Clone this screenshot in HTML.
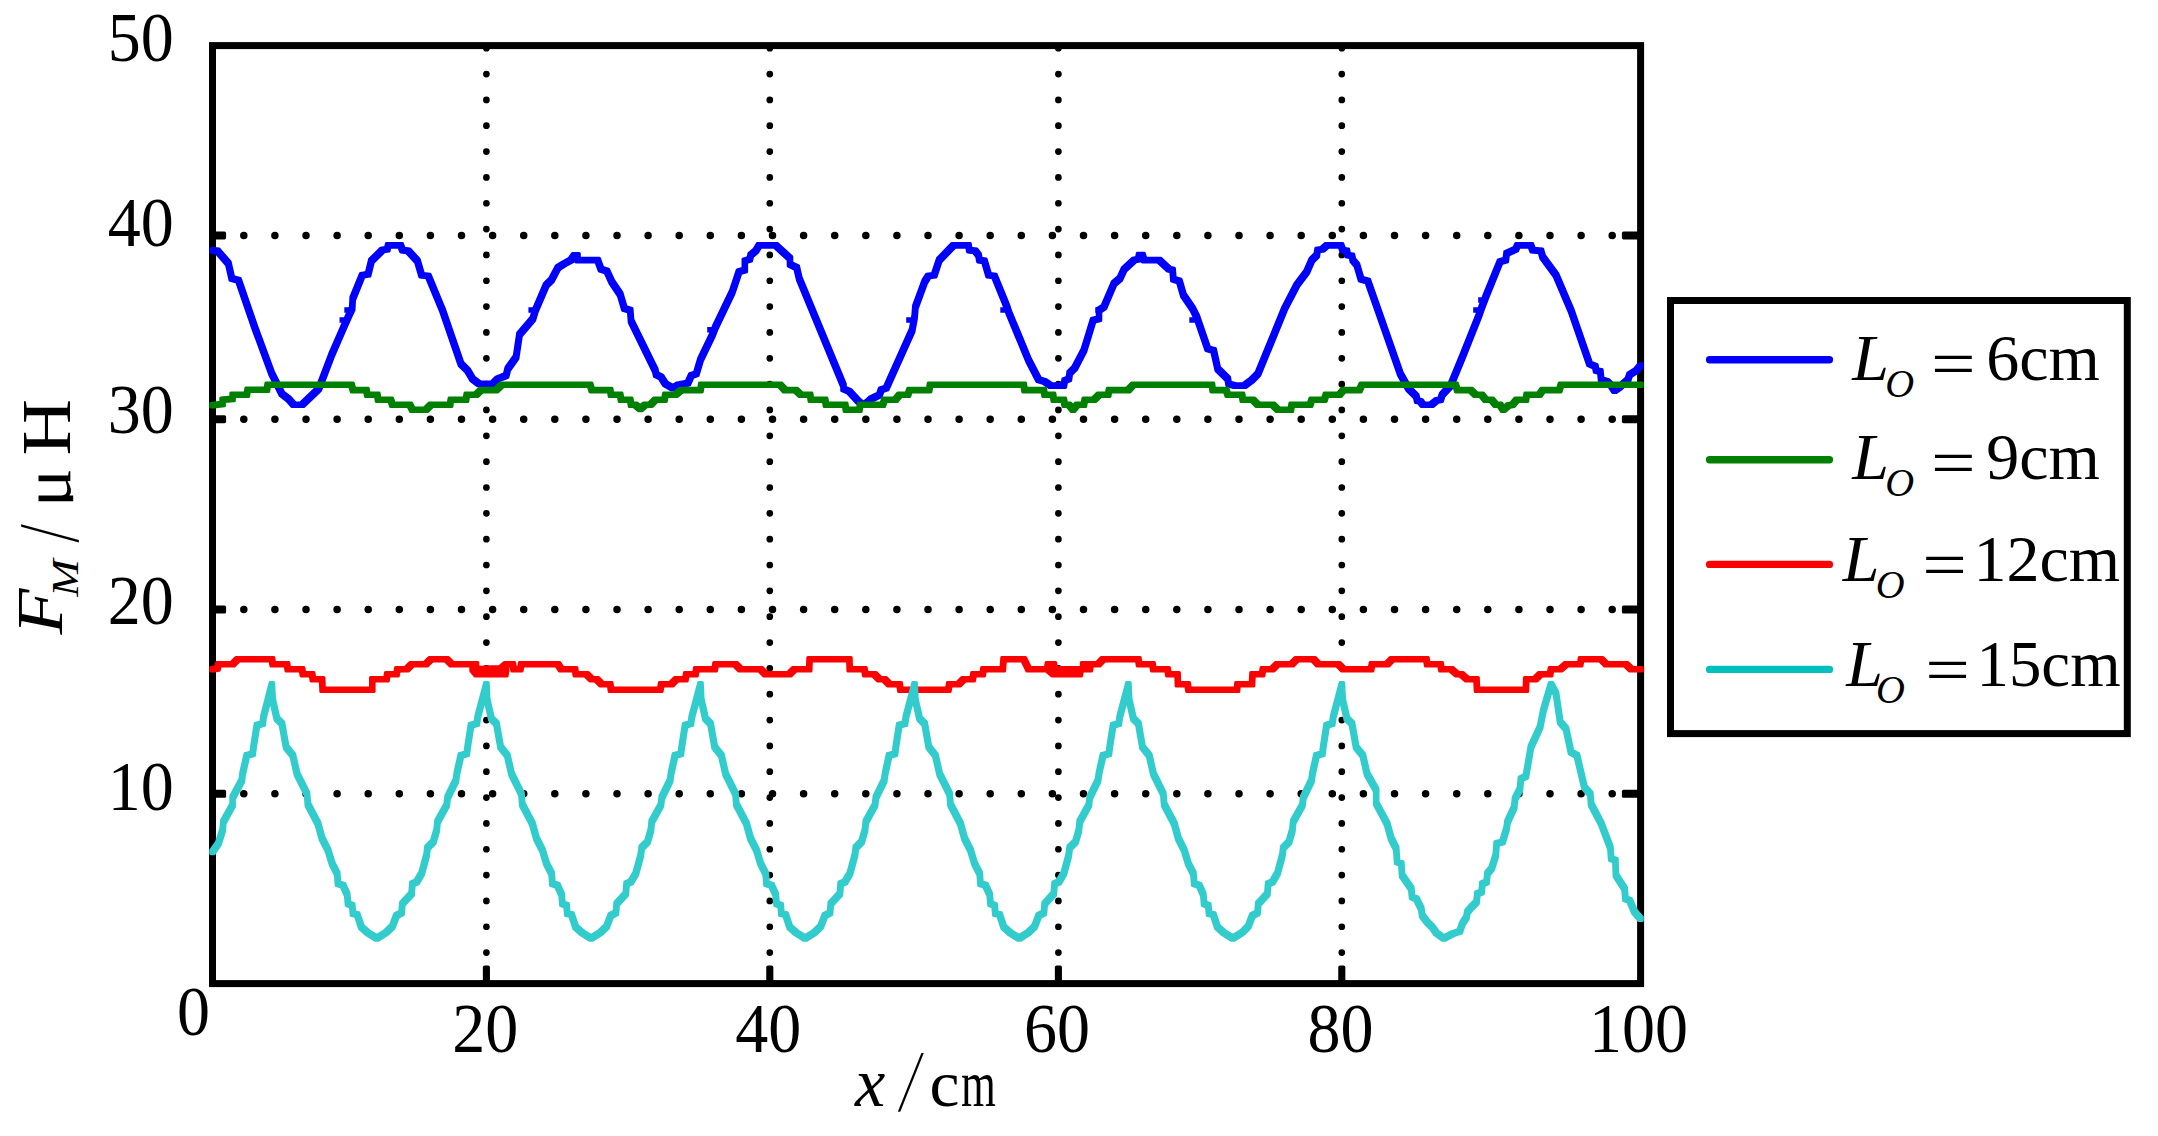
<!DOCTYPE html>
<html lang="zh"><head><meta charset="utf-8"><title>F_M / μH — x/cm</title>
<style>html,body{margin:0;padding:0;background:#fff}body{width:2158px;height:1136px;overflow:hidden}svg{display:block}text{font-family:"Liberation Serif","Noto Serif CJK SC",serif;fill:#000}.it{font-style:italic}</style></head><body>
<svg width="2158" height="1136" viewBox="0 0 2158 1136">
<rect x="0" y="0" width="2158" height="1136" fill="#fff"/>
<g stroke="#000" stroke-linecap="round" fill="none">
<line x1="212.7" y1="235.4" x2="1630" y2="235.4" stroke-width="7.5" stroke-dasharray="0.01 31.09"/>
<line x1="212.7" y1="419.2" x2="1630" y2="419.2" stroke-width="7.5" stroke-dasharray="0.01 31.09"/>
<line x1="212.7" y1="609.5" x2="1630" y2="609.5" stroke-width="7.5" stroke-dasharray="0.01 31.09"/>
<line x1="212.7" y1="793.8" x2="1630" y2="793.8" stroke-width="7.5" stroke-dasharray="0.01 31.09"/>
<line x1="486.4" y1="48.2" x2="486.4" y2="972" stroke-width="6.7" stroke-dasharray="0.01 25.83"/>
<line x1="769.8" y1="48.2" x2="769.8" y2="972" stroke-width="6.7" stroke-dasharray="0.01 25.83"/>
<line x1="1058.4" y1="48.2" x2="1058.4" y2="972" stroke-width="6.7" stroke-dasharray="0.01 25.83"/>
<line x1="1341.8" y1="48.2" x2="1341.8" y2="972" stroke-width="6.7" stroke-dasharray="0.01 25.83"/>
</g>
<g stroke="#000" fill="none">
<rect x="212.5" y="45.6" width="1428.1" height="938.0" stroke-width="7" stroke-linejoin="miter"/>
<g stroke="none" fill="#000">
<rect x="212.5" y="231.4" width="13.6" height="8" rx="1.6"/>
<rect x="1621.9" y="231.4" width="18.7" height="8" rx="1.6"/>
<rect x="212.5" y="415.2" width="13.6" height="8" rx="1.6"/>
<rect x="1621.9" y="415.2" width="18.7" height="8" rx="1.6"/>
<rect x="212.5" y="605.5" width="13.6" height="8" rx="1.6"/>
<rect x="1621.9" y="605.5" width="18.7" height="8" rx="1.6"/>
<rect x="212.5" y="789.8" width="13.6" height="8" rx="1.6"/>
<rect x="1621.9" y="789.8" width="18.7" height="8" rx="1.6"/>
<rect x="482.85" y="965.6" width="7.1" height="18.0" rx="1.8"/>
<rect x="766.25" y="965.6" width="7.1" height="18.0" rx="1.8"/>
<rect x="1054.85" y="965.6" width="7.1" height="18.0" rx="1.8"/>
<rect x="1338.25" y="965.6" width="7.1" height="18.0" rx="1.8"/>
</g></g>
<g stroke-width="3.2" stroke-linejoin="round" fill-rule="nonzero">
<path fill="#0000ff" stroke="#0000ff" d="M210.8 248.7L214.2 248.7L219.2 249.2L219.2 252.6L215.8 252.6L210.8 252.1ZM215.8 249.2L219.2 249.2L230.1 261.8L230.1 265.2L226.7 265.2L215.8 252.6ZM226.7 261.8L230.1 261.8L233.5 276.8L233.5 280.2L230.1 280.2L226.7 265.2ZM230.1 276.8L233.5 276.8L240.2 278.5L240.2 281.9L236.8 281.9L230.1 280.2ZM236.8 278.5L240.2 278.5L256.9 327.0L256.9 330.4L253.5 330.4L236.8 281.9ZM253.5 327.0L256.9 327.0L273.6 372.2L273.6 375.6L270.2 375.6L253.5 330.4ZM270.2 372.2L273.6 372.2L283.6 392.2L283.6 395.6L280.2 395.6L270.2 375.6ZM280.2 392.2L283.6 392.2L290.3 397.3L290.3 400.7L286.9 400.7L280.2 395.6ZM286.9 397.3L290.3 397.3L295.4 403.1L295.4 406.5L292.0 406.5L286.9 400.7ZM292.0 403.1L303.7 403.1L303.7 406.5L292.0 406.5ZM300.3 403.1L317.0 387.2L320.4 387.2L320.4 390.6L303.7 406.5L300.3 406.5ZM317.0 387.2L330.4 352.1L333.8 352.1L333.8 355.5L320.4 390.6L317.0 390.6ZM330.4 352.1L342.1 325.3L345.5 325.3L345.5 328.7L333.8 355.5L330.4 355.5ZM342.1 325.3L348.0 311.9L351.4 311.9L351.4 315.3L345.5 328.7L342.1 328.7ZM348.0 311.9L350.5 306.9L353.9 306.9L353.9 310.3L351.4 315.3L348.0 315.3ZM350.5 306.9L351.0 296.9L354.4 296.9L354.4 300.3L353.9 310.3L350.5 310.3ZM351.0 296.9L360.5 273.5L363.9 273.5L363.9 276.9L354.4 300.3L351.0 300.3ZM360.5 273.5L366.4 272.6L369.8 272.6L369.8 276.0L363.9 276.9L360.5 276.9ZM366.4 272.6L369.7 259.2L373.1 259.2L373.1 262.6L369.8 276.0L366.4 276.0ZM369.7 259.2L380.6 248.4L384.0 248.4L384.0 251.8L373.1 262.6L369.7 262.6ZM380.6 248.4L385.6 247.5L389.0 247.5L389.0 250.9L384.0 251.8L380.6 251.8ZM385.6 247.5L386.5 243.7L389.9 243.7L389.9 247.1L389.0 250.9L385.6 250.9ZM386.5 243.7L402.4 243.7L402.4 247.1L386.5 247.1ZM399.0 243.7L402.4 243.7L404.1 248.4L404.1 251.8L400.7 251.8L399.0 247.1ZM400.7 248.4L404.1 248.4L409.9 249.2L409.9 252.6L406.5 252.6L400.7 251.8ZM406.5 249.2L409.9 249.2L419.1 259.2L419.1 262.6L415.7 262.6L406.5 252.6ZM415.7 259.2L419.1 259.2L423.3 273.5L423.3 276.9L419.9 276.9L415.7 262.6ZM419.9 273.5L423.3 273.5L430.0 274.3L430.0 277.7L426.6 277.7L419.9 276.9ZM426.6 274.3L430.0 274.3L444.2 308.6L444.2 312.0L440.8 312.0L426.6 277.7ZM440.8 308.6L444.2 308.6L462.6 362.1L462.6 365.5L459.2 365.5L440.8 312.0ZM459.2 362.1L462.6 362.1L469.3 368.8L469.3 372.2L465.9 372.2L459.2 365.5ZM465.9 368.8L469.3 368.8L474.3 377.2L474.3 380.6L470.9 380.6L465.9 372.2ZM470.9 377.2L474.3 377.2L481.0 382.2L481.0 385.6L477.6 385.6L470.9 380.6ZM477.6 382.2L494.4 382.2L494.4 385.6L477.6 385.6ZM491.0 382.2L496.0 377.2L499.4 377.2L499.4 380.6L494.4 385.6L491.0 385.6ZM496.0 377.2L504.4 373.8L507.8 373.8L507.8 377.2L499.4 380.6L496.0 380.6ZM504.4 373.8L506.1 367.1L509.5 367.1L509.5 370.5L507.8 377.2L504.4 377.2ZM506.1 367.1L514.4 355.4L517.8 355.4L517.8 358.8L509.5 370.5L506.1 370.5ZM514.4 355.4L517.8 332.8L521.2 332.8L521.2 336.2L517.8 358.8L514.4 358.8ZM517.8 332.8L531.2 317.0L534.6 317.0L534.6 320.4L521.2 336.2L517.8 336.2ZM531.2 317.0L533.7 308.6L537.1 308.6L537.1 312.0L534.6 320.4L531.2 320.4ZM533.7 308.6L544.5 283.5L547.9 283.5L547.9 286.9L537.1 312.0L533.7 312.0ZM544.5 283.5L549.6 278.5L553.0 278.5L553.0 281.9L547.9 286.9L544.5 286.9ZM549.6 278.5L556.3 265.9L559.7 265.9L559.7 269.3L553.0 281.9L549.6 281.9ZM556.3 265.9L562.9 261.8L566.3 261.8L566.3 265.2L559.7 269.3L556.3 269.3ZM562.9 261.8L569.2 258.4L572.6 258.4L572.6 261.8L566.3 265.2L562.9 265.2ZM569.2 258.4L572.5 253.6L575.9 253.6L575.9 257.0L572.6 261.8L569.2 261.8ZM572.5 253.6L579.2 253.6L579.2 257.0L572.5 257.0ZM575.8 253.6L579.2 253.6L579.2 261.8L575.8 261.8ZM575.8 258.4L599.3 258.4L599.3 261.8L575.8 261.8ZM595.9 258.4L599.3 258.4L602.7 267.6L602.7 271.0L599.3 271.0L595.9 261.8ZM599.3 267.6L602.7 267.6L608.5 269.3L608.5 272.7L605.1 272.7L599.3 271.0ZM605.1 269.3L608.5 269.3L613.5 280.2L613.5 283.6L610.1 283.6L605.1 272.7ZM610.1 280.2L613.5 280.2L621.9 292.7L621.9 296.1L618.5 296.1L610.1 283.6ZM618.5 292.7L621.9 292.7L626.1 306.9L626.1 310.3L622.7 310.3L618.5 296.1ZM622.7 306.9L626.1 306.9L631.9 308.6L631.9 312.0L628.5 312.0L622.7 310.3ZM628.5 308.6L631.9 308.6L632.8 319.5L632.8 322.9L629.4 322.9L628.5 312.0ZM629.4 319.5L632.8 319.5L657.0 368.8L657.0 372.2L653.6 372.2L629.4 322.9ZM653.6 368.8L657.0 368.8L657.9 373.0L657.9 376.4L654.5 376.4L653.6 372.2ZM654.5 373.0L657.9 373.0L662.9 375.5L662.9 378.9L659.5 378.9L654.5 376.4ZM659.5 375.5L662.9 375.5L667.1 382.2L667.1 385.6L663.7 385.6L659.5 378.9ZM663.7 382.2L667.1 382.2L674.6 386.4L674.6 389.8L671.2 389.8L663.7 385.6ZM671.2 386.4L677.0 383.0L680.4 383.0L680.4 386.4L674.6 389.8L671.2 389.8ZM677.0 383.0L686.2 381.4L689.6 381.4L689.6 384.8L680.4 386.4L677.0 386.4ZM686.2 381.4L689.6 373.8L693.0 373.8L693.0 377.2L689.6 384.8L686.2 384.8ZM689.6 373.8L694.6 372.2L698.0 372.2L698.0 375.6L693.0 377.2L689.6 377.2ZM694.6 372.2L698.8 357.9L702.2 357.9L702.2 361.3L698.0 375.6L694.6 375.6ZM698.8 357.9L710.5 333.7L713.9 333.7L713.9 337.1L702.2 361.3L698.8 361.3ZM710.5 333.7L713.8 325.3L717.2 325.3L717.2 328.7L713.9 337.1L710.5 337.1ZM713.8 325.3L730.6 290.2L734.0 290.2L734.0 293.6L717.2 328.7L713.8 328.7ZM730.6 290.2L737.3 270.1L740.7 270.1L740.7 273.5L734.0 293.6L730.6 293.6ZM737.3 270.1L743.1 268.4L746.5 268.4L746.5 271.8L740.7 273.5L737.3 273.5ZM743.1 259.2L746.5 259.2L746.5 271.8L743.1 271.8ZM743.1 259.2L748.1 257.6L751.5 257.6L751.5 261.0L746.5 262.6L743.1 262.6ZM748.1 257.6L749.0 253.4L752.4 253.4L752.4 256.8L751.5 261.0L748.1 261.0ZM749.0 253.4L754.0 249.2L757.4 249.2L757.4 252.6L752.4 256.8L749.0 256.8ZM754.0 249.2L757.3 243.7L760.7 243.7L760.7 247.1L757.4 252.6L754.0 252.6ZM757.3 243.7L777.5 243.7L777.5 247.1L757.3 247.1ZM774.1 243.7L777.5 243.7L791.7 256.7L791.7 260.1L788.3 260.1L774.1 247.1ZM788.3 256.7L791.7 256.7L791.7 266.0L788.3 266.0ZM788.3 262.6L791.7 262.6L798.4 265.9L798.4 269.3L795.0 269.3L788.3 266.0ZM795.0 265.9L798.4 265.9L800.9 276.8L800.9 280.2L797.5 280.2L795.0 269.3ZM797.5 276.8L800.9 276.8L845.2 383.9L845.2 387.3L841.8 387.3L797.5 280.2ZM841.8 383.9L845.2 383.9L845.2 390.6L841.8 390.6ZM841.8 387.2L845.2 387.2L851.1 389.7L851.1 393.1L847.7 393.1L841.8 390.6ZM847.7 389.7L851.1 389.7L859.4 398.9L859.4 402.3L856.0 402.3L847.7 393.1ZM856.0 398.9L859.4 398.9L862.7 401.8L862.7 405.2L859.3 405.2L856.0 402.3ZM859.3 401.8L867.7 401.8L867.7 405.2L859.3 405.2ZM864.3 401.8L867.7 398.9L871.1 398.9L871.1 402.3L867.7 405.2L864.3 405.2ZM867.7 398.9L869.4 397.3L872.8 397.3L872.8 400.7L871.1 402.3L867.7 402.3ZM869.4 397.3L877.8 393.1L881.2 393.1L881.2 396.5L872.8 400.7L869.4 400.7ZM877.8 393.1L879.5 388.0L882.9 388.0L882.9 391.4L881.2 396.5L877.8 396.5ZM879.5 388.0L884.5 386.4L887.9 386.4L887.9 389.8L882.9 391.4L879.5 391.4ZM884.5 386.4L910.4 328.7L913.8 328.7L913.8 332.1L887.9 389.8L884.5 389.8ZM910.4 328.7L912.9 315.3L916.3 315.3L916.3 318.7L913.8 332.1L910.4 332.1ZM912.9 315.3L913.7 305.2L917.1 305.2L917.1 308.6L916.3 318.7L912.9 318.7ZM913.7 305.2L922.9 280.2L926.3 280.2L926.3 283.6L917.1 308.6L913.7 308.6ZM922.9 280.2L926.6 274.3L930.0 274.3L930.0 277.7L926.3 283.6L922.9 283.6ZM926.6 274.3L932.5 273.5L935.9 273.5L935.9 276.9L930.0 277.7L926.6 277.7ZM932.5 273.5L937.5 258.4L940.9 258.4L940.9 261.8L935.9 276.9L932.5 276.9ZM937.5 258.4L951.7 243.7L955.1 243.7L955.1 247.1L940.9 261.8L937.5 261.8ZM951.7 243.7L970.2 243.7L970.2 247.1L951.7 247.1ZM966.8 243.7L970.2 243.7L971.0 248.4L971.0 251.8L967.6 251.8L966.8 247.1ZM967.6 248.4L971.0 248.4L976.9 249.2L976.9 252.6L973.5 252.6L967.6 251.8ZM973.5 249.2L976.9 249.2L980.2 253.4L980.2 256.8L976.8 256.8L973.5 252.6ZM976.8 253.4L980.2 253.4L981.1 258.4L981.1 261.8L977.7 261.8L976.8 256.8ZM977.7 258.4L981.1 258.4L986.1 259.2L986.1 262.6L982.7 262.6L977.7 261.8ZM982.7 259.2L986.1 259.2L990.3 273.5L990.3 276.9L986.9 276.9L982.7 262.6ZM986.9 273.5L990.3 273.5L996.1 274.3L996.1 277.7L992.7 277.7L986.9 276.9ZM992.7 274.3L996.1 274.3L1008.7 305.2L1008.7 308.6L1005.3 308.6L992.7 277.7ZM1005.3 305.2L1008.7 305.2L1010.3 310.3L1010.3 313.7L1006.9 313.7L1005.3 308.6ZM1006.9 310.3L1010.3 310.3L1030.4 358.8L1030.4 362.2L1027.0 362.2L1006.9 313.7ZM1027.0 358.8L1030.4 358.8L1040.4 378.0L1040.4 381.4L1037.0 381.4L1027.0 362.2ZM1037.0 378.0L1040.4 378.0L1046.3 379.7L1046.3 383.1L1042.9 383.1L1037.0 381.4ZM1042.9 379.7L1046.3 379.7L1052.2 383.9L1052.2 387.3L1048.8 387.3L1042.9 383.1ZM1048.8 383.9L1065.5 383.9L1065.5 387.3L1048.8 387.3ZM1062.1 383.9L1063.0 378.9L1066.4 378.9L1066.4 382.3L1065.5 387.3L1062.1 387.3ZM1063.0 378.9L1067.2 377.2L1070.6 377.2L1070.6 380.6L1066.4 382.3L1063.0 382.3ZM1067.2 377.2L1068.0 371.3L1071.4 371.3L1071.4 374.7L1070.6 380.6L1067.2 380.6ZM1068.0 371.3L1073.0 366.3L1076.4 366.3L1076.4 369.7L1071.4 374.7L1068.0 374.7ZM1073.0 366.3L1082.2 348.7L1085.6 348.7L1085.6 352.1L1076.4 369.7L1073.0 369.7ZM1082.2 348.7L1091.4 318.6L1094.8 318.6L1094.8 322.0L1085.6 352.1L1082.2 352.1ZM1091.4 318.6L1097.3 317.0L1100.7 317.0L1100.7 320.4L1094.8 322.0L1091.4 322.0ZM1097.3 308.6L1100.7 308.6L1100.7 320.4L1097.3 320.4ZM1097.3 308.6L1102.3 305.2L1105.7 305.2L1105.7 308.6L1100.7 312.0L1097.3 312.0ZM1102.3 305.2L1112.3 281.8L1115.7 281.8L1115.7 285.2L1105.7 308.6L1102.3 308.6ZM1112.3 281.8L1118.2 276.8L1121.6 276.8L1121.6 280.2L1115.7 285.2L1112.3 285.2ZM1118.2 276.8L1122.4 267.6L1125.8 267.6L1125.8 271.0L1121.6 280.2L1118.2 280.2ZM1122.4 267.6L1132.4 258.4L1135.8 258.4L1135.8 261.8L1125.8 271.0L1122.4 271.0ZM1132.4 258.4L1136.6 257.6L1140.0 257.6L1140.0 261.0L1135.8 261.8L1132.4 261.8ZM1136.6 257.6L1137.4 253.4L1140.8 253.4L1140.8 256.8L1140.0 261.0L1136.6 261.0ZM1137.4 253.4L1144.2 253.4L1144.2 256.8L1137.4 256.8ZM1140.8 253.4L1144.2 253.4L1145.8 258.4L1145.8 261.8L1142.4 261.8L1140.8 256.8ZM1142.4 258.4L1160.9 258.4L1160.9 261.8L1142.4 261.8ZM1157.5 258.4L1160.9 258.4L1170.9 267.6L1170.9 271.0L1167.5 271.0L1157.5 261.8ZM1167.5 267.6L1170.9 267.6L1174.3 268.4L1174.3 271.8L1170.9 271.8L1167.5 271.0ZM1170.9 268.4L1174.3 268.4L1175.1 277.6L1175.1 281.0L1171.7 281.0L1170.9 271.8ZM1171.7 277.6L1175.1 277.6L1181.0 279.3L1181.0 282.7L1177.6 282.7L1171.7 281.0ZM1177.6 279.3L1181.0 279.3L1185.1 293.5L1185.1 296.9L1181.7 296.9L1177.6 282.7ZM1181.7 293.5L1185.1 293.5L1194.3 306.9L1194.3 310.3L1190.9 310.3L1181.7 296.9ZM1190.9 306.9L1194.3 306.9L1198.5 315.3L1198.5 318.7L1195.1 318.7L1190.9 310.3ZM1195.1 315.3L1198.5 315.3L1200.2 320.3L1200.2 323.7L1196.8 323.7L1195.1 318.7ZM1196.8 320.3L1200.2 320.3L1209.4 347.1L1209.4 350.5L1206.0 350.5L1196.8 323.7ZM1206.0 347.1L1209.4 347.1L1215.3 348.7L1215.3 352.1L1211.9 352.1L1206.0 350.5ZM1211.9 348.7L1215.3 348.7L1219.4 367.1L1219.4 370.5L1216.0 370.5L1211.9 352.1ZM1216.0 367.1L1219.4 367.1L1229.5 377.2L1229.5 380.6L1226.1 380.6L1216.0 370.5ZM1226.1 377.2L1229.5 377.2L1230.3 382.2L1230.3 385.6L1226.9 385.6L1226.1 380.6ZM1226.9 382.2L1230.3 382.2L1236.2 383.9L1236.2 387.3L1232.8 387.3L1226.9 385.6ZM1232.8 383.9L1246.2 383.9L1246.2 387.3L1232.8 387.3ZM1242.8 383.9L1249.5 378.9L1252.9 378.9L1252.9 382.3L1246.2 387.3L1242.8 387.3ZM1249.5 378.9L1256.2 372.2L1259.6 372.2L1259.6 375.6L1252.9 382.3L1249.5 382.3ZM1256.2 372.2L1267.9 343.7L1271.3 343.7L1271.3 347.1L1259.6 375.6L1256.2 375.6ZM1267.9 343.7L1282.9 306.9L1286.3 306.9L1286.3 310.3L1271.3 347.1L1267.9 347.1ZM1282.9 306.9L1295.0 283.5L1298.4 283.5L1298.4 286.9L1286.3 310.3L1282.9 310.3ZM1295.0 283.5L1305.0 270.1L1308.4 270.1L1308.4 273.5L1298.4 286.9L1295.0 286.9ZM1305.0 270.1L1310.1 258.4L1313.5 258.4L1313.5 261.8L1308.4 273.5L1305.0 273.5ZM1310.1 258.4L1315.1 253.4L1318.5 253.4L1318.5 256.8L1313.5 261.8L1310.1 261.8ZM1315.1 253.4L1315.9 248.4L1319.3 248.4L1319.3 251.8L1318.5 256.8L1315.1 256.8ZM1315.9 248.4L1320.9 247.5L1324.3 247.5L1324.3 250.9L1319.3 251.8L1315.9 251.8ZM1320.9 247.5L1325.1 243.7L1328.5 243.7L1328.5 247.1L1324.3 250.9L1320.9 250.9ZM1325.1 243.7L1342.7 243.7L1342.7 247.1L1325.1 247.1ZM1339.3 243.7L1342.7 243.7L1344.4 248.4L1344.4 251.8L1341.0 251.8L1339.3 247.1ZM1341.0 248.4L1344.4 248.4L1348.6 249.2L1348.6 252.6L1345.2 252.6L1341.0 251.8ZM1345.2 249.2L1348.6 249.2L1349.4 253.4L1349.4 256.8L1346.0 256.8L1345.2 252.6ZM1346.0 253.4L1349.4 253.4L1353.6 254.2L1353.6 257.6L1350.2 257.6L1346.0 256.8ZM1350.2 254.2L1353.6 254.2L1354.5 258.4L1354.5 261.8L1351.1 261.8L1350.2 257.6ZM1351.1 258.4L1354.5 258.4L1358.6 263.4L1358.6 266.8L1355.2 266.8L1351.1 261.8ZM1355.2 263.4L1358.6 263.4L1362.8 277.6L1362.8 281.0L1359.4 281.0L1355.2 266.8ZM1359.4 277.6L1362.8 277.6L1369.5 279.3L1369.5 282.7L1366.1 282.7L1359.4 281.0ZM1366.1 279.3L1369.5 279.3L1380.4 310.3L1380.4 313.7L1377.0 313.7L1366.1 282.7ZM1377.0 310.3L1380.4 310.3L1402.1 372.2L1402.1 375.6L1398.7 375.6L1377.0 313.7ZM1398.7 372.2L1402.1 372.2L1410.5 387.2L1410.5 390.6L1407.1 390.6L1398.7 375.6ZM1407.1 387.2L1410.5 387.2L1418.0 394.7L1418.0 398.1L1414.6 398.1L1407.1 390.6ZM1414.6 394.7L1418.0 394.7L1418.9 398.9L1418.9 402.3L1415.5 402.3L1414.6 398.1ZM1415.5 398.9L1418.9 398.9L1422.2 399.8L1422.2 403.2L1418.8 403.2L1415.5 402.3ZM1418.8 399.8L1422.2 399.8L1424.7 403.1L1424.7 406.5L1421.3 406.5L1418.8 403.2ZM1421.3 403.1L1433.1 403.1L1433.1 406.5L1421.3 406.5ZM1429.7 403.1L1434.7 398.9L1438.1 398.9L1438.1 402.3L1433.1 406.5L1429.7 406.5ZM1434.7 398.9L1438.9 398.1L1442.3 398.1L1442.3 401.5L1438.1 402.3L1434.7 402.3ZM1438.9 398.1L1440.5 393.1L1443.9 393.1L1443.9 396.5L1442.3 401.5L1438.9 401.5ZM1440.5 393.1L1448.9 383.9L1452.3 383.9L1452.3 387.3L1443.9 396.5L1440.5 396.5ZM1448.9 383.9L1460.6 355.4L1464.0 355.4L1464.0 358.8L1452.3 387.3L1448.9 387.3ZM1460.6 355.4L1477.3 313.6L1480.7 313.6L1480.7 317.0L1464.0 358.8L1460.6 358.8ZM1477.3 313.6L1479.8 306.3L1483.2 306.3L1483.2 309.7L1480.7 317.0L1477.3 317.0ZM1479.8 306.3L1484.0 295.2L1487.4 295.2L1487.4 298.6L1483.2 309.7L1479.8 309.7ZM1484.0 295.2L1498.3 260.1L1501.7 260.1L1501.7 263.5L1487.4 298.6L1484.0 298.6ZM1498.3 260.1L1504.1 258.4L1507.5 258.4L1507.5 261.8L1501.7 263.5L1498.3 263.5ZM1504.1 258.4L1504.9 251.7L1508.3 251.7L1508.3 255.1L1507.5 261.8L1504.1 261.8ZM1504.9 251.7L1514.1 247.5L1517.5 247.5L1517.5 250.9L1508.3 255.1L1504.9 255.1ZM1514.1 247.5L1515.8 243.7L1519.2 243.7L1519.2 247.1L1517.5 250.9L1514.1 250.9ZM1515.8 243.7L1532.6 243.7L1532.6 247.1L1515.8 247.1ZM1529.2 243.7L1532.6 243.7L1534.3 248.4L1534.3 251.8L1530.9 251.8L1529.2 247.1ZM1530.9 248.4L1534.3 248.4L1542.6 249.2L1542.6 252.6L1539.2 252.6L1530.9 251.8ZM1539.2 249.2L1542.6 249.2L1544.3 255.1L1544.3 258.5L1540.9 258.5L1539.2 252.6ZM1540.9 255.1L1544.3 255.1L1557.7 273.5L1557.7 276.9L1554.3 276.9L1540.9 258.5ZM1554.3 273.5L1557.7 273.5L1572.7 308.6L1572.7 312.0L1569.3 312.0L1554.3 276.9ZM1569.3 308.6L1572.7 308.6L1591.2 362.1L1591.2 365.5L1587.8 365.5L1569.3 312.0ZM1587.8 362.1L1591.2 362.1L1597.0 364.6L1597.0 368.0L1593.6 368.0L1587.8 365.5ZM1593.6 364.6L1597.0 364.6L1597.8 368.8L1597.8 372.2L1594.4 372.2L1593.6 368.0ZM1594.4 368.8L1597.8 368.8L1602.0 369.7L1602.0 373.1L1598.6 373.1L1594.4 372.2ZM1598.6 369.7L1602.0 369.7L1602.9 378.0L1602.9 381.4L1599.5 381.4L1598.6 373.1ZM1599.5 378.0L1602.9 378.0L1608.7 379.7L1608.7 383.1L1605.3 383.1L1599.5 381.4ZM1605.3 379.7L1608.7 379.7L1612.9 383.9L1612.9 387.3L1609.5 387.3L1605.3 383.1ZM1609.5 383.9L1612.9 383.9L1616.2 388.9L1616.2 392.3L1612.8 392.3L1609.5 387.3ZM1612.8 388.9L1617.9 385.5L1621.3 385.5L1621.3 388.9L1616.2 392.3L1612.8 392.3ZM1617.9 385.5L1626.2 378.0L1629.6 378.0L1629.6 381.4L1621.3 388.9L1617.9 388.9ZM1626.2 378.0L1627.9 373.0L1631.3 373.0L1631.3 376.4L1629.6 381.4L1626.2 381.4ZM1627.9 373.0L1634.6 368.8L1638.0 368.8L1638.0 372.2L1631.3 376.4L1627.9 376.4ZM1634.6 368.8L1638.8 363.8L1642.2 363.8L1642.2 367.2L1638.0 372.2L1634.6 372.2Z"/>
<path fill="#0000ff" d="M339.5 317.2H346.5V322.8H339.5ZM344.3 307.2H352V312.8H344.3ZM528.4 307.2H536V312.8H528.4ZM707.2 327.0H714.5V332.6H707.2ZM906.2 317.2H914V322.8H906.2ZM1000.3 307.2H1008V312.8H1000.3ZM1095.3 307.2H1102V312.8H1095.3ZM1189.3 317.2H1197.5V322.8H1189.3ZM1473.2 307.2H1481V312.8H1473.2ZM1478.2 297.2H1485V302.8H1478.2Z"/>
<path fill="#008000" stroke="#008000" d="M210.8 403.6L220.9 402.3L224.3 402.3L224.3 405.7L214.2 407.0L210.8 407.0ZM220.9 398.1L224.3 398.1L224.3 405.7L220.9 405.7ZM220.9 398.1L230.9 397.2L234.3 397.2L234.3 400.6L224.3 401.5L220.9 401.5ZM230.9 393.1L234.3 393.1L234.3 400.6L230.9 400.6ZM230.9 393.1L248.5 393.1L248.5 396.5L230.9 396.5ZM245.1 393.1L246.0 388.0L249.4 388.0L249.4 391.4L248.5 396.5L245.1 396.5ZM246.0 388.0L268.6 388.0L268.6 391.4L246.0 391.4ZM265.2 388.0L266.0 383.0L269.4 383.0L269.4 386.4L268.6 391.4L265.2 391.4ZM266.0 383.0L353.1 383.0L353.1 386.4L266.0 386.4ZM349.7 383.0L353.1 383.0L354.7 388.4L354.7 391.8L351.3 391.8L349.7 386.4ZM351.3 388.4L368.1 388.4L368.1 391.8L351.3 391.8ZM364.7 388.4L368.1 388.4L369.0 393.1L369.0 396.5L365.6 396.5L364.7 391.8ZM365.6 393.1L379.0 393.1L379.0 396.5L365.6 396.5ZM375.6 393.1L379.0 393.1L379.8 398.1L379.8 401.5L376.4 401.5L375.6 396.5ZM376.4 398.1L392.4 398.1L392.4 401.5L376.4 401.5ZM389.0 398.1L392.4 398.1L394.1 403.1L394.1 406.5L390.7 406.5L389.0 401.5ZM390.7 403.1L411.6 403.1L411.6 406.5L390.7 406.5ZM408.2 403.1L411.6 403.1L414.1 408.1L414.1 411.5L410.7 411.5L408.2 406.5ZM410.7 408.1L427.5 408.1L427.5 411.5L410.7 411.5ZM424.1 408.1L429.1 403.1L432.5 403.1L432.5 406.5L427.5 411.5L424.1 411.5ZM429.1 403.1L451.8 403.1L451.8 406.5L429.1 406.5ZM448.4 403.1L449.2 398.1L452.6 398.1L452.6 401.5L451.8 406.5L448.4 406.5ZM449.2 398.1L467.7 398.1L467.7 401.5L449.2 401.5ZM464.3 398.1L465.1 393.1L468.5 393.1L468.5 396.5L467.7 401.5L464.3 401.5ZM465.1 393.1L477.7 393.1L477.7 396.5L465.1 396.5ZM474.3 393.1L479.3 388.4L482.7 388.4L482.7 391.8L477.7 396.5L474.3 396.5ZM479.3 388.4L497.8 388.4L497.8 391.8L479.3 391.8ZM494.4 388.4L500.2 383.0L503.6 383.0L503.6 386.4L497.8 391.8L494.4 391.8ZM500.2 383.0L591.8 383.0L591.8 386.4L500.2 386.4ZM588.4 383.0L591.8 383.0L593.5 388.4L593.5 391.8L590.1 391.8L588.4 386.4ZM590.1 388.4L611.9 388.4L611.9 391.8L590.1 391.8ZM608.5 388.4L611.9 388.4L612.7 393.1L612.7 396.5L609.3 396.5L608.5 391.8ZM609.3 393.1L621.9 393.1L621.9 396.5L609.3 396.5ZM618.5 393.1L621.9 393.1L622.7 398.1L622.7 401.5L619.3 401.5L618.5 396.5ZM619.3 398.1L631.9 398.1L631.9 401.5L619.3 401.5ZM628.5 398.1L631.9 398.1L632.8 403.1L632.8 406.5L629.4 406.5L628.5 401.5ZM629.4 403.1L637.0 403.1L637.0 406.5L629.4 406.5ZM633.6 403.1L637.0 403.1L642.0 407.3L642.0 410.7L638.6 410.7L633.6 406.5ZM638.6 407.3L643.6 403.1L647.0 403.1L647.0 406.5L642.0 410.7L638.6 410.7ZM643.6 403.1L652.0 403.1L652.0 406.5L643.6 406.5ZM648.6 403.1L653.6 398.1L657.0 398.1L657.0 401.5L652.0 406.5L648.6 406.5ZM653.6 398.1L666.2 398.1L666.2 401.5L653.6 401.5ZM662.8 398.1L663.7 393.1L667.1 393.1L667.1 396.5L666.2 401.5L662.8 401.5ZM663.7 393.1L677.1 393.1L677.1 396.5L663.7 396.5ZM673.7 393.1L679.6 388.4L683.0 388.4L683.0 391.8L677.1 396.5L673.7 396.5ZM679.6 388.4L702.2 388.4L702.2 391.8L679.6 391.8ZM698.8 388.4L699.6 383.0L703.0 383.0L703.0 386.4L702.2 391.8L698.8 391.8ZM699.6 383.0L781.7 383.0L781.7 386.4L699.6 386.4ZM778.3 383.0L781.7 383.0L786.7 388.4L786.7 391.8L783.3 391.8L778.3 386.4ZM783.3 388.4L797.5 388.4L797.5 391.8L783.3 391.8ZM794.1 388.4L797.5 388.4L802.6 393.1L802.6 396.5L799.2 396.5L794.1 391.8ZM799.2 393.1L811.8 393.1L811.8 396.5L799.2 396.5ZM808.4 393.1L811.8 393.1L812.6 398.1L812.6 401.5L809.2 401.5L808.4 396.5ZM809.2 398.1L826.8 398.1L826.8 401.5L809.2 401.5ZM823.4 398.1L826.8 398.1L827.7 403.1L827.7 406.5L824.3 406.5L823.4 401.5ZM824.3 403.1L846.9 403.1L846.9 406.5L824.3 406.5ZM843.5 403.1L846.9 403.1L847.7 408.1L847.7 411.5L844.3 411.5L843.5 406.5ZM844.3 408.1L861.1 408.1L861.1 411.5L844.3 411.5ZM857.7 408.1L858.5 403.1L861.9 403.1L861.9 406.5L861.1 411.5L857.7 411.5ZM858.5 403.1L884.5 403.1L884.5 406.5L858.5 406.5ZM881.1 403.1L882.8 398.1L886.2 398.1L886.2 401.5L884.5 406.5L881.1 406.5ZM882.8 398.1L897.1 398.1L897.1 401.5L882.8 401.5ZM893.7 398.1L897.9 393.1L901.3 393.1L901.3 396.5L897.1 401.5L893.7 401.5ZM897.9 393.1L909.6 393.1L909.6 396.5L897.9 396.5ZM906.2 393.1L907.9 388.4L911.3 388.4L911.3 391.8L909.6 396.5L906.2 396.5ZM907.9 388.4L930.9 388.4L930.9 391.8L907.9 391.8ZM927.5 388.4L928.3 383.0L931.7 383.0L931.7 386.4L930.9 391.8L927.5 391.8ZM928.3 383.0L1025.4 383.0L1025.4 386.4L928.3 386.4ZM1022.0 383.0L1025.4 383.0L1026.2 388.4L1026.2 391.8L1022.8 391.8L1022.0 386.4ZM1022.8 388.4L1045.5 388.4L1045.5 391.8L1022.8 391.8ZM1042.1 388.4L1045.5 388.4L1046.3 393.1L1046.3 396.5L1042.9 396.5L1042.1 391.8ZM1042.9 393.1L1054.7 393.1L1054.7 396.5L1042.9 396.5ZM1051.3 393.1L1054.7 393.1L1055.5 398.1L1055.5 401.5L1052.1 401.5L1051.3 396.5ZM1052.1 398.1L1065.5 398.1L1065.5 401.5L1052.1 401.5ZM1062.1 398.1L1065.5 398.1L1066.4 403.1L1066.4 406.5L1063.0 406.5L1062.1 401.5ZM1063.0 403.1L1070.6 403.1L1070.6 406.5L1063.0 406.5ZM1067.2 403.1L1070.6 403.1L1074.7 408.1L1074.7 411.5L1071.3 411.5L1067.2 406.5ZM1071.3 408.1L1075.5 403.1L1078.9 403.1L1078.9 406.5L1074.7 411.5L1071.3 411.5ZM1075.5 403.1L1085.6 403.1L1085.6 406.5L1075.5 406.5ZM1082.2 403.1L1083.1 398.1L1086.5 398.1L1086.5 401.5L1085.6 406.5L1082.2 406.5ZM1083.1 398.1L1095.7 398.1L1095.7 401.5L1083.1 401.5ZM1092.3 398.1L1097.3 393.1L1100.7 393.1L1100.7 396.5L1095.7 401.5L1092.3 401.5ZM1097.3 393.1L1109.9 393.1L1109.9 396.5L1097.3 396.5ZM1106.5 393.1L1107.3 388.4L1110.7 388.4L1110.7 391.8L1109.9 396.5L1106.5 396.5ZM1107.3 388.4L1129.9 388.4L1129.9 391.8L1107.3 391.8ZM1126.5 388.4L1131.6 383.0L1135.0 383.0L1135.0 386.4L1129.9 391.8L1126.5 391.8ZM1131.6 383.0L1213.6 383.0L1213.6 386.4L1131.6 386.4ZM1210.2 383.0L1213.6 383.0L1214.4 388.4L1214.4 391.8L1211.0 391.8L1210.2 386.4ZM1211.0 388.4L1227.8 388.4L1227.8 391.8L1211.0 391.8ZM1224.4 388.4L1227.8 388.4L1229.5 393.1L1229.5 396.5L1226.1 396.5L1224.4 391.8ZM1226.1 393.1L1243.7 393.1L1243.7 396.5L1226.1 396.5ZM1240.3 393.1L1243.7 393.1L1244.5 398.1L1244.5 401.5L1241.1 401.5L1240.3 396.5ZM1241.1 398.1L1254.6 398.1L1254.6 401.5L1241.1 401.5ZM1251.2 398.1L1254.6 398.1L1259.6 403.1L1259.6 406.5L1256.2 406.5L1251.2 401.5ZM1256.2 403.1L1274.6 403.1L1274.6 406.5L1256.2 406.5ZM1271.2 403.1L1274.6 403.1L1279.7 408.1L1279.7 411.5L1276.3 411.5L1271.2 406.5ZM1276.3 408.1L1292.6 408.1L1292.6 411.5L1276.3 411.5ZM1289.2 408.1L1290.0 403.1L1293.4 403.1L1293.4 406.5L1292.6 411.5L1289.2 411.5ZM1290.0 403.1L1311.8 403.1L1311.8 406.5L1290.0 406.5ZM1308.4 403.1L1310.1 398.1L1313.5 398.1L1313.5 401.5L1311.8 406.5L1308.4 406.5ZM1310.1 398.1L1326.0 398.1L1326.0 401.5L1310.1 401.5ZM1322.6 398.1L1324.3 393.1L1327.7 393.1L1327.7 396.5L1326.0 401.5L1322.6 401.5ZM1324.3 393.1L1341.1 393.1L1341.1 396.5L1324.3 396.5ZM1337.7 393.1L1341.8 388.4L1345.2 388.4L1345.2 391.8L1341.1 396.5L1337.7 396.5ZM1341.8 388.4L1361.1 388.4L1361.1 391.8L1341.8 391.8ZM1357.7 388.4L1360.2 383.0L1363.6 383.0L1363.6 386.4L1361.1 391.8L1357.7 391.8ZM1360.2 383.0L1457.3 383.0L1457.3 386.4L1360.2 386.4ZM1453.9 383.0L1457.3 383.0L1459.0 388.4L1459.0 391.8L1455.6 391.8L1453.9 386.4ZM1455.6 388.4L1472.4 388.4L1472.4 391.8L1455.6 391.8ZM1469.0 388.4L1472.4 388.4L1477.4 393.1L1477.4 396.5L1474.0 396.5L1469.0 391.8ZM1474.0 393.1L1483.3 393.1L1483.3 396.5L1474.0 396.5ZM1479.9 393.1L1483.3 393.1L1487.4 398.1L1487.4 401.5L1484.0 401.5L1479.9 396.5ZM1484.0 398.1L1493.3 398.1L1493.3 401.5L1484.0 401.5ZM1489.9 398.1L1493.3 398.1L1497.5 403.1L1497.5 406.5L1494.1 406.5L1489.9 401.5ZM1494.1 403.1L1501.7 403.1L1501.7 406.5L1494.1 406.5ZM1498.3 403.1L1501.7 403.1L1505.0 408.1L1505.0 411.5L1501.6 411.5L1498.3 406.5ZM1501.6 408.1L1506.6 403.9L1510.0 403.9L1510.0 407.3L1505.0 411.5L1501.6 411.5ZM1506.6 403.9L1510.8 403.1L1514.2 403.1L1514.2 406.5L1510.0 407.3L1506.6 407.3ZM1510.8 403.1L1515.0 398.1L1518.4 398.1L1518.4 401.5L1514.2 406.5L1510.8 406.5ZM1515.0 398.1L1527.6 398.1L1527.6 401.5L1515.0 401.5ZM1524.2 398.1L1525.0 393.1L1528.4 393.1L1528.4 396.5L1527.6 401.5L1524.2 401.5ZM1525.0 393.1L1541.0 393.1L1541.0 396.5L1525.0 396.5ZM1537.6 393.1L1540.9 388.4L1544.3 388.4L1544.3 391.8L1541.0 396.5L1537.6 396.5ZM1540.9 388.4L1561.0 388.4L1561.0 391.8L1540.9 391.8ZM1557.6 388.4L1559.3 383.0L1562.7 383.0L1562.7 386.4L1561.0 391.8L1557.6 391.8ZM1559.3 383.0L1642.2 383.0L1642.2 386.4L1559.3 386.4Z"/>
<path fill="#ff0000" stroke="#ff0000" d="M210.8 667.6L215.8 666.7L219.2 666.7L219.2 670.1L214.2 671.0L210.8 671.0ZM215.8 666.7L216.7 662.6L220.1 662.6L220.1 666.0L219.2 670.1L215.8 670.1ZM216.7 662.6L234.3 662.6L234.3 666.0L216.7 666.0ZM230.9 662.6L235.9 657.5L239.3 657.5L239.3 660.9L234.3 666.0L230.9 666.0ZM235.9 657.5L273.6 657.5L273.6 660.9L235.9 660.9ZM270.2 657.5L273.6 657.5L274.4 662.6L274.4 666.0L271.0 666.0L270.2 660.9ZM271.0 662.6L288.7 662.6L288.7 666.0L271.0 666.0ZM285.3 662.6L288.7 662.6L289.5 667.6L289.5 671.0L286.1 671.0L285.3 666.0ZM286.1 667.6L303.7 667.6L303.7 671.0L286.1 671.0ZM300.3 667.6L303.7 667.6L304.6 672.6L304.6 676.0L301.2 676.0L300.3 671.0ZM301.2 672.6L313.8 672.6L313.8 676.0L301.2 676.0ZM310.4 672.6L313.8 672.6L314.6 677.6L314.6 681.0L311.2 681.0L310.4 676.0ZM311.2 677.6L323.8 677.6L323.8 681.0L311.2 681.0ZM320.4 677.6L323.8 677.6L324.3 688.0L324.3 691.4L320.9 691.4L320.4 681.0ZM320.9 688.0L374.0 688.0L374.0 691.4L320.9 691.4ZM370.6 677.6L374.0 677.6L374.0 691.4L370.6 691.4ZM370.6 677.6L388.2 677.6L388.2 681.0L370.6 681.0ZM384.8 677.6L385.6 672.6L389.0 672.6L389.0 676.0L388.2 681.0L384.8 681.0ZM385.6 672.6L398.2 672.6L398.2 676.0L385.6 676.0ZM394.8 672.6L395.7 667.6L399.1 667.6L399.1 671.0L398.2 676.0L394.8 676.0ZM395.7 667.6L408.3 667.6L408.3 671.0L395.7 671.0ZM404.9 667.6L409.9 662.6L413.3 662.6L413.3 666.0L408.3 671.0L404.9 671.0ZM409.9 662.6L427.5 662.6L427.5 666.0L409.9 666.0ZM424.1 662.6L429.1 657.5L432.5 657.5L432.5 660.9L427.5 666.0L424.1 666.0ZM429.1 657.5L448.4 657.5L448.4 660.9L429.1 660.9ZM445.0 657.5L448.4 657.5L453.4 662.6L453.4 666.0L450.0 666.0L445.0 660.9ZM450.0 662.6L477.7 662.6L477.7 666.0L450.0 666.0ZM470.9 667.6L474.3 662.6L477.7 662.6L477.7 666.0L474.3 671.0L470.9 671.0ZM470.9 667.6L474.3 667.6L478.5 672.6L478.5 676.0L475.1 676.0L470.9 671.0ZM475.1 672.6L507.0 672.6L507.0 676.0L475.1 676.0ZM503.6 672.6L504.4 667.6L507.8 667.6L507.8 671.0L507.0 676.0L503.6 676.0ZM472.3 667.6L507.8 667.6L507.8 671.0L472.3 671.0ZM472.3 667.6L499.4 666.7L502.8 666.7L502.8 670.1L475.7 671.0L472.3 671.0ZM499.4 666.7L504.4 662.6L507.8 662.6L507.8 666.0L502.8 670.1L499.4 670.1ZM504.4 662.6L514.5 662.6L514.5 666.0L504.4 666.0ZM511.1 662.6L514.5 662.6L515.3 667.6L515.3 671.0L511.9 671.0L511.1 666.0ZM511.9 667.6L522.0 667.6L522.0 671.0L511.9 671.0ZM518.6 667.6L519.5 662.6L522.9 662.6L522.9 666.0L522.0 671.0L518.6 671.0ZM519.5 662.6L559.7 662.6L559.7 666.0L519.5 666.0ZM556.3 662.6L559.7 662.6L563.0 667.6L563.0 671.0L559.6 671.0L556.3 666.0ZM559.6 667.6L576.7 667.6L576.7 671.0L559.6 671.0ZM573.3 667.6L576.7 667.6L577.6 672.6L577.6 676.0L574.2 676.0L573.3 671.0ZM574.2 672.6L588.4 672.6L588.4 676.0L574.2 676.0ZM585.0 672.6L588.4 672.6L593.5 677.6L593.5 681.0L590.1 681.0L585.0 676.0ZM590.1 677.6L598.5 677.6L598.5 681.0L590.1 681.0ZM595.1 677.6L598.5 677.6L603.5 682.6L603.5 686.0L600.1 686.0L595.1 681.0ZM600.1 682.6L611.9 682.6L611.9 686.0L600.1 686.0ZM608.5 682.6L611.9 682.6L612.7 688.0L612.7 691.4L609.3 691.4L608.5 686.0ZM609.3 688.0L662.0 688.0L662.0 691.4L609.3 691.4ZM658.6 688.0L659.5 682.6L662.9 682.6L662.9 686.0L662.0 691.4L658.6 691.4ZM659.5 682.6L672.9 682.6L672.9 686.0L659.5 686.0ZM669.5 682.6L674.5 677.6L677.9 677.6L677.9 681.0L672.9 686.0L669.5 686.0ZM674.5 677.6L687.1 677.6L687.1 681.0L674.5 681.0ZM683.7 677.6L684.6 672.6L688.0 672.6L688.0 676.0L687.1 681.0L683.7 681.0ZM684.6 672.6L697.2 672.6L697.2 676.0L684.6 676.0ZM693.8 672.6L694.6 667.6L698.0 667.6L698.0 671.0L697.2 676.0L693.8 676.0ZM694.6 667.6L716.4 667.6L716.4 671.0L694.6 671.0ZM713.0 667.6L713.9 662.6L717.3 662.6L717.3 666.0L716.4 671.0L713.0 671.0ZM713.9 662.6L737.3 662.6L737.3 666.0L713.9 666.0ZM733.9 662.6L737.3 662.6L742.3 667.6L742.3 671.0L738.9 671.0L733.9 666.0ZM738.9 667.6L762.4 667.6L762.4 671.0L738.9 671.0ZM759.0 667.6L762.4 667.6L767.4 672.6L767.4 676.0L764.0 676.0L759.0 671.0ZM764.0 672.6L790.9 672.6L790.9 676.0L764.0 676.0ZM787.5 672.6L792.5 667.6L795.9 667.6L795.9 671.0L790.9 676.0L787.5 676.0ZM792.5 667.6L810.9 667.6L810.9 671.0L792.5 671.0ZM807.5 667.6L807.9 657.5L811.3 657.5L811.3 660.9L810.9 671.0L807.5 671.0ZM807.9 657.5L851.1 657.5L851.1 660.9L807.9 660.9ZM847.7 657.5L851.1 657.5L851.4 667.6L851.4 671.0L848.0 671.0L847.7 660.9ZM848.0 667.6L866.1 667.6L866.1 671.0L848.0 671.0ZM862.7 667.6L866.1 667.6L867.0 672.6L867.0 676.0L863.6 676.0L862.7 671.0ZM863.6 672.6L876.2 672.6L876.2 676.0L863.6 676.0ZM872.8 672.6L876.2 672.6L881.2 677.6L881.2 681.0L877.8 681.0L872.8 676.0ZM877.8 677.6L886.2 677.6L886.2 681.0L877.8 681.0ZM882.8 677.6L886.2 677.6L891.2 682.6L891.2 686.0L887.8 686.0L882.8 681.0ZM887.8 682.6L901.3 682.6L901.3 686.0L887.8 686.0ZM897.9 682.6L901.3 682.6L902.1 688.0L902.1 691.4L898.7 691.4L897.9 686.0ZM898.7 688.0L950.1 688.0L950.1 691.4L898.7 691.4ZM946.7 688.0L947.6 682.6L951.0 682.6L951.0 686.0L950.1 691.4L946.7 691.4ZM947.6 682.6L960.2 682.6L960.2 686.0L947.6 686.0ZM956.8 682.6L961.8 677.6L965.2 677.6L965.2 681.0L960.2 686.0L956.8 686.0ZM961.8 677.6L974.4 677.6L974.4 681.0L961.8 681.0ZM971.0 677.6L971.8 672.6L975.2 672.6L975.2 676.0L974.4 681.0L971.0 681.0ZM971.8 672.6L984.4 672.6L984.4 676.0L971.8 676.0ZM981.0 672.6L981.8 667.6L985.2 667.6L985.2 671.0L984.4 676.0L981.0 676.0ZM981.8 667.6L1004.5 667.6L1004.5 671.0L981.8 671.0ZM1001.1 667.6L1001.9 657.5L1005.3 657.5L1005.3 660.9L1004.5 671.0L1001.1 671.0ZM1001.9 657.5L1025.4 657.5L1025.4 660.9L1001.9 660.9ZM1022.0 657.5L1025.4 657.5L1030.4 667.6L1030.4 671.0L1027.0 671.0L1022.0 660.9ZM1027.0 667.6L1048.8 667.6L1048.8 671.0L1027.0 671.0ZM1045.4 667.6L1046.3 662.6L1049.7 662.6L1049.7 666.0L1048.8 671.0L1045.4 671.0ZM1046.3 662.6L1055.5 662.6L1055.5 666.0L1046.3 666.0ZM1052.1 662.6L1055.5 662.6L1056.3 667.6L1056.3 671.0L1052.9 671.0L1052.1 666.0ZM1047.1 668.4L1052.9 667.6L1056.3 667.6L1056.3 671.0L1050.5 671.8L1047.1 671.8ZM1047.1 668.4L1050.5 668.4L1055.5 672.6L1055.5 676.0L1052.1 676.0L1047.1 671.8ZM1052.1 672.6L1081.4 672.6L1081.4 676.0L1052.1 676.0ZM1078.0 672.6L1078.9 667.6L1082.3 667.6L1082.3 671.0L1081.4 676.0L1078.0 676.0ZM1052.9 667.6L1082.3 667.6L1082.3 671.0L1052.9 671.0ZM1052.9 667.6L1091.5 667.6L1091.5 671.0L1052.9 671.0ZM1088.1 667.6L1088.9 662.6L1092.3 662.6L1092.3 666.0L1091.5 671.0L1088.1 671.0ZM1081.4 662.6L1092.3 662.6L1092.3 666.0L1081.4 666.0ZM1081.4 662.6L1099.8 662.6L1099.8 666.0L1081.4 666.0ZM1096.4 662.6L1101.5 657.5L1104.9 657.5L1104.9 660.9L1099.8 666.0L1096.4 666.0ZM1101.5 657.5L1140.0 657.5L1140.0 660.9L1101.5 660.9ZM1136.6 657.5L1140.0 657.5L1140.8 662.6L1140.8 666.0L1137.4 666.0L1136.6 660.9ZM1137.4 662.6L1154.2 662.6L1154.2 666.0L1137.4 666.0ZM1150.8 662.6L1154.2 662.6L1155.0 667.6L1155.0 671.0L1151.6 671.0L1150.8 666.0ZM1151.6 667.6L1169.3 667.6L1169.3 671.0L1151.6 671.0ZM1165.9 667.6L1169.3 667.6L1170.1 672.6L1170.1 676.0L1166.7 676.0L1165.9 671.0ZM1166.7 672.6L1179.3 672.6L1179.3 676.0L1166.7 676.0ZM1175.9 672.6L1179.3 672.6L1179.6 682.6L1179.6 686.0L1176.2 686.0L1175.9 676.0ZM1176.2 682.6L1189.3 682.6L1189.3 686.0L1176.2 686.0ZM1185.9 682.6L1189.3 682.6L1190.2 688.0L1190.2 691.4L1186.8 691.4L1185.9 686.0ZM1186.8 688.0L1238.7 688.0L1238.7 691.4L1186.8 691.4ZM1235.3 688.0L1235.8 682.6L1239.2 682.6L1239.2 686.0L1238.7 691.4L1235.3 691.4ZM1235.8 682.6L1253.7 682.6L1253.7 686.0L1235.8 686.0ZM1250.3 682.6L1250.8 672.6L1254.2 672.6L1254.2 676.0L1253.7 686.0L1250.3 686.0ZM1250.8 672.6L1263.8 672.6L1263.8 676.0L1250.8 676.0ZM1260.4 672.6L1261.2 667.6L1264.6 667.6L1264.6 671.0L1263.8 676.0L1260.4 676.0ZM1261.2 667.6L1273.8 667.6L1273.8 671.0L1261.2 671.0ZM1270.4 667.6L1275.4 662.6L1278.8 662.6L1278.8 666.0L1273.8 671.0L1270.4 671.0ZM1275.4 662.6L1293.4 662.6L1293.4 666.0L1275.4 666.0ZM1290.0 662.6L1295.0 657.5L1298.4 657.5L1298.4 660.9L1293.4 666.0L1290.0 666.0ZM1295.0 657.5L1315.1 657.5L1315.1 660.9L1295.0 660.9ZM1311.7 657.5L1315.1 657.5L1320.2 662.6L1320.2 666.0L1316.8 666.0L1311.7 660.9ZM1316.8 662.6L1340.2 662.6L1340.2 666.0L1316.8 666.0ZM1336.8 662.6L1340.2 662.6L1345.2 667.6L1345.2 671.0L1341.8 671.0L1336.8 666.0ZM1341.8 667.6L1372.8 667.6L1372.8 671.0L1341.8 671.0ZM1369.4 667.6L1370.3 662.6L1373.7 662.6L1373.7 666.0L1372.8 671.0L1369.4 671.0ZM1370.3 662.6L1388.7 662.6L1388.7 666.0L1370.3 666.0ZM1385.3 662.6L1390.4 657.5L1393.8 657.5L1393.8 660.9L1388.7 666.0L1385.3 666.0ZM1390.4 657.5L1428.1 657.5L1428.1 660.9L1390.4 660.9ZM1424.7 657.5L1428.1 657.5L1428.9 662.6L1428.9 666.0L1425.5 666.0L1424.7 660.9ZM1425.5 662.6L1442.3 662.6L1442.3 666.0L1425.5 666.0ZM1438.9 662.6L1442.3 662.6L1443.1 667.6L1443.1 671.0L1439.7 671.0L1438.9 666.0ZM1439.7 667.6L1453.1 667.6L1453.1 671.0L1439.7 671.0ZM1449.7 667.6L1453.1 667.6L1459.0 672.6L1459.0 676.0L1455.6 676.0L1449.7 671.0ZM1455.6 672.6L1463.2 672.6L1463.2 676.0L1455.6 676.0ZM1459.8 672.6L1463.2 672.6L1469.0 677.6L1469.0 681.0L1465.6 681.0L1459.8 676.0ZM1465.6 677.6L1478.2 677.6L1478.2 681.0L1465.6 681.0ZM1474.8 677.6L1478.2 677.6L1478.7 688.0L1478.7 691.4L1475.3 691.4L1474.8 681.0ZM1475.3 688.0L1527.6 688.0L1527.6 691.4L1475.3 691.4ZM1524.2 688.0L1524.5 677.6L1527.9 677.6L1527.9 681.0L1527.6 691.4L1524.2 691.4ZM1524.5 677.6L1536.8 677.6L1536.8 681.0L1524.5 681.0ZM1533.4 677.6L1538.4 672.6L1541.8 672.6L1541.8 676.0L1536.8 681.0L1533.4 681.0ZM1538.4 672.6L1551.8 672.6L1551.8 676.0L1538.4 676.0ZM1548.4 672.6L1549.3 667.6L1552.7 667.6L1552.7 671.0L1551.8 676.0L1548.4 676.0ZM1549.3 667.6L1561.9 667.6L1561.9 671.0L1549.3 671.0ZM1558.5 667.6L1564.3 662.6L1567.7 662.6L1567.7 666.0L1561.9 671.0L1558.5 671.0ZM1564.3 662.6L1581.9 662.6L1581.9 666.0L1564.3 666.0ZM1578.5 662.6L1579.4 657.5L1582.8 657.5L1582.8 660.9L1581.9 666.0L1578.5 666.0ZM1579.4 657.5L1602.9 657.5L1602.9 660.9L1579.4 660.9ZM1599.5 657.5L1602.9 657.5L1607.9 662.6L1607.9 666.0L1604.5 666.0L1599.5 660.9ZM1604.5 662.6L1627.9 662.6L1627.9 666.0L1604.5 666.0ZM1624.5 662.6L1627.9 662.6L1633.0 667.6L1633.0 671.0L1629.6 671.0L1624.5 666.0ZM1629.6 667.6L1642.2 667.6L1642.2 671.0L1629.6 671.0Z"/>
<path fill="#33cccc" stroke="#33cccc" d="M210.8 850.2L216.7 841.8L220.1 841.8L220.1 845.2L214.2 853.6L210.8 853.6ZM216.7 841.8L220.9 828.4L224.3 828.4L224.3 831.8L220.1 845.2L216.7 845.2ZM220.9 828.4L221.7 820.1L225.1 820.1L225.1 823.5L224.3 831.8L220.9 831.8ZM221.7 820.1L230.9 803.4L234.3 803.4L234.3 806.8L225.1 823.5L221.7 823.5ZM230.9 795.8L234.3 795.8L234.3 806.8L230.9 806.8ZM230.9 795.8L240.1 778.8L243.5 778.8L243.5 782.2L234.3 799.2L230.9 799.2ZM240.1 778.8L240.9 772.1L244.3 772.1L244.3 775.5L243.5 782.2L240.1 782.2ZM240.9 772.1L245.1 753.7L248.5 753.7L248.5 757.1L244.3 775.5L240.9 775.5ZM245.1 753.7L251.0 752.1L254.4 752.1L254.4 755.5L248.5 757.1L245.1 757.1ZM251.0 752.1L251.8 745.4L255.2 745.4L255.2 748.8L254.4 755.5L251.0 755.5ZM251.8 745.4L255.2 723.6L258.6 723.6L258.6 727.0L255.2 748.8L251.8 748.8ZM255.2 723.6L261.0 721.9L264.4 721.9L264.4 725.3L258.6 727.0L255.2 727.0ZM261.0 721.9L261.8 715.3L265.2 715.3L265.2 718.7L264.4 725.3L261.0 725.3ZM261.8 715.3L270.2 682.6L273.6 682.6L273.6 686.0L265.2 718.7L261.8 718.7ZM270.2 682.6L273.6 682.6L274.4 698.5L274.4 701.9L271.0 701.9L270.2 686.0ZM271.0 698.5L274.4 698.5L278.6 716.9L278.6 720.3L275.2 720.3L271.0 701.9ZM275.2 716.9L278.6 716.9L283.6 721.9L283.6 725.3L280.2 725.3L275.2 720.3ZM280.2 721.9L283.6 721.9L287.8 745.4L287.8 748.8L284.4 748.8L280.2 725.3ZM284.4 745.4L287.8 745.4L294.5 753.7L294.5 757.1L291.1 757.1L284.4 748.8ZM291.1 753.7L294.5 753.7L298.7 772.1L298.7 775.5L295.3 775.5L291.1 757.1ZM295.3 772.1L298.7 772.1L308.7 792.2L308.7 795.6L305.3 795.6L295.3 775.5ZM305.3 792.2L308.7 792.2L309.6 802.8L309.6 806.2L306.2 806.2L305.3 795.6ZM306.2 802.8L309.6 802.8L319.6 821.8L319.6 825.2L316.2 825.2L306.2 806.2ZM316.2 821.8L319.6 821.8L323.8 836.8L323.8 840.2L320.4 840.2L316.2 825.2ZM320.4 836.8L323.8 836.8L329.7 848.5L329.7 851.9L326.3 851.9L320.4 840.2ZM326.3 848.5L329.7 848.5L333.8 861.9L333.8 865.3L330.4 865.3L326.3 851.9ZM330.4 861.9L333.8 861.9L338.9 871.9L338.9 875.3L335.5 875.3L330.4 865.3ZM335.5 871.9L338.9 871.9L339.7 882.0L339.7 885.4L336.3 885.4L335.5 875.3ZM336.3 882.0L339.7 882.0L344.7 883.6L344.7 887.0L341.3 887.0L336.3 885.4ZM341.3 883.6L344.7 883.6L348.9 892.8L348.9 896.2L345.5 896.2L341.3 887.0ZM345.5 892.8L348.9 892.8L349.7 902.0L349.7 905.4L346.3 905.4L345.5 896.2ZM346.3 902.0L349.7 902.0L353.9 903.7L353.9 907.1L350.5 907.1L346.3 905.4ZM350.5 903.7L353.9 903.7L354.7 912.1L354.7 915.5L351.3 915.5L350.5 907.1ZM351.3 912.1L354.7 912.1L358.9 912.9L358.9 916.3L355.5 916.3L351.3 915.5ZM355.5 912.9L358.9 912.9L363.1 925.5L363.1 928.9L359.7 928.9L355.5 916.3ZM359.7 925.5L363.1 925.5L369.8 931.3L369.8 934.7L366.4 934.7L359.7 928.9ZM366.4 931.3L369.8 931.3L378.5 936.7L378.5 940.1L375.1 940.1L366.4 934.7ZM375.1 936.7L384.8 930.5L388.2 930.5L388.2 933.9L378.5 940.1L375.1 940.1ZM384.8 930.5L390.7 924.6L394.1 924.6L394.1 928.0L388.2 933.9L384.8 933.9ZM390.7 924.6L394.8 913.8L398.2 913.8L398.2 917.2L394.1 928.0L390.7 928.0ZM394.8 913.8L399.9 911.2L403.3 911.2L403.3 914.6L398.2 917.2L394.8 917.2ZM399.9 911.2L400.7 902.0L404.1 902.0L404.1 905.4L403.3 914.6L399.9 914.6ZM400.7 902.0L409.9 892.0L413.3 892.0L413.3 895.4L404.1 905.4L400.7 905.4ZM409.9 892.0L410.7 882.0L414.1 882.0L414.1 885.4L413.3 895.4L409.9 895.4ZM410.7 882.0L414.9 880.3L418.3 880.3L418.3 883.7L414.1 885.4L410.7 885.4ZM414.9 880.3L419.9 871.9L423.3 871.9L423.3 875.3L418.3 883.7L414.9 883.7ZM419.9 871.9L424.9 853.5L428.3 853.5L428.3 856.9L423.3 875.3L419.9 875.3ZM424.9 853.5L425.8 846.0L429.2 846.0L429.2 849.4L428.3 856.9L424.9 856.9ZM425.8 846.0L431.6 840.2L435.0 840.2L435.0 843.6L429.2 849.4L425.8 849.4ZM431.6 840.2L435.0 828.4L438.4 828.4L438.4 831.8L435.0 843.6L431.6 843.6ZM435.0 828.4L435.8 820.1L439.2 820.1L439.2 823.5L438.4 831.8L435.0 831.8ZM435.8 820.1L445.0 803.4L448.4 803.4L448.4 806.8L439.2 823.5L435.8 823.5ZM445.0 803.4L445.9 795.8L449.3 795.8L449.3 799.2L448.4 806.8L445.0 806.8ZM445.9 795.8L454.2 778.8L457.6 778.8L457.6 782.2L449.3 799.2L445.9 799.2ZM454.2 778.8L455.1 772.1L458.5 772.1L458.5 775.5L457.6 782.2L454.2 782.2ZM455.1 772.1L459.2 753.7L462.6 753.7L462.6 757.1L458.5 775.5L455.1 775.5ZM459.2 753.7L465.1 752.1L468.5 752.1L468.5 755.5L462.6 757.1L459.2 757.1ZM465.1 752.1L465.9 745.4L469.3 745.4L469.3 748.8L468.5 755.5L465.1 755.5ZM465.9 745.4L469.3 723.6L472.7 723.6L472.7 727.0L469.3 748.8L465.9 748.8ZM469.3 723.6L475.1 721.9L478.5 721.9L478.5 725.3L472.7 727.0L469.3 727.0ZM475.1 721.9L476.0 715.3L479.4 715.3L479.4 718.7L478.5 725.3L475.1 725.3ZM476.0 715.3L484.7 682.6L488.1 682.6L488.1 686.0L479.4 718.7L476.0 718.7ZM484.7 682.6L488.1 682.6L488.9 698.5L488.9 701.9L485.5 701.9L484.7 686.0ZM485.5 698.5L488.9 698.5L493.1 716.9L493.1 720.3L489.7 720.3L485.5 701.9ZM489.7 716.9L493.1 716.9L498.1 721.9L498.1 725.3L494.7 725.3L489.7 720.3ZM494.7 721.9L498.1 721.9L502.3 745.4L502.3 748.8L498.9 748.8L494.7 725.3ZM498.9 745.4L502.3 745.4L509.0 753.7L509.0 757.1L505.6 757.1L498.9 748.8ZM505.6 753.7L509.0 753.7L513.2 772.1L513.2 775.5L509.8 775.5L505.6 757.1ZM509.8 772.1L513.2 772.1L523.1 792.2L523.1 795.6L519.7 795.6L509.8 775.5ZM519.7 792.2L523.1 792.2L524.0 802.8L524.0 806.2L520.6 806.2L519.7 795.6ZM520.6 802.8L524.0 802.8L534.0 821.8L534.0 825.2L530.6 825.2L520.6 806.2ZM530.6 821.8L534.0 821.8L538.2 836.8L538.2 840.2L534.8 840.2L530.6 825.2ZM534.8 836.8L538.2 836.8L544.1 848.5L544.1 851.9L540.7 851.9L534.8 840.2ZM540.7 848.5L544.1 848.5L548.2 861.9L548.2 865.3L544.8 865.3L540.7 851.9ZM544.8 861.9L548.2 861.9L553.3 871.9L553.3 875.3L549.9 875.3L544.8 865.3ZM549.9 871.9L553.3 871.9L554.1 882.0L554.1 885.4L550.7 885.4L549.9 875.3ZM550.7 882.0L554.1 882.0L559.1 883.6L559.1 887.0L555.7 887.0L550.7 885.4ZM555.7 883.6L559.1 883.6L563.3 892.8L563.3 896.2L559.9 896.2L555.7 887.0ZM559.9 892.8L563.3 892.8L564.1 902.0L564.1 905.4L560.7 905.4L559.9 896.2ZM560.7 902.0L564.1 902.0L568.3 903.7L568.3 907.1L564.9 907.1L560.7 905.4ZM564.9 903.7L568.3 903.7L569.0 912.1L569.0 915.5L565.6 915.5L564.9 907.1ZM565.6 912.1L569.0 912.1L573.2 912.9L573.2 916.3L569.8 916.3L565.6 915.5ZM569.8 912.9L573.2 912.9L577.4 925.5L577.4 928.9L574.0 928.9L569.8 916.3ZM574.0 925.5L577.4 925.5L584.1 931.3L584.1 934.7L580.7 934.7L574.0 928.9ZM580.7 931.3L584.1 931.3L592.8 936.7L592.8 940.1L589.4 940.1L580.7 934.7ZM589.4 936.7L599.1 930.5L602.5 930.5L602.5 933.9L592.8 940.1L589.4 940.1ZM599.1 930.5L605.0 924.6L608.4 924.6L608.4 928.0L602.5 933.9L599.1 933.9ZM605.0 924.6L609.1 913.8L612.5 913.8L612.5 917.2L608.4 928.0L605.0 928.0ZM609.1 913.8L614.2 911.2L617.6 911.2L617.6 914.6L612.5 917.2L609.1 917.2ZM614.2 911.2L615.0 902.0L618.4 902.0L618.4 905.4L617.6 914.6L614.2 914.6ZM615.0 902.0L624.1 892.0L627.5 892.0L627.5 895.4L618.4 905.4L615.0 905.4ZM624.1 892.0L624.9 882.0L628.3 882.0L628.3 885.4L627.5 895.4L624.1 895.4ZM624.9 882.0L629.1 880.3L632.5 880.3L632.5 883.7L628.3 885.4L624.9 885.4ZM629.1 880.3L634.1 871.9L637.5 871.9L637.5 875.3L632.5 883.7L629.1 883.7ZM634.1 871.9L639.1 853.5L642.5 853.5L642.5 856.9L637.5 875.3L634.1 875.3ZM639.1 853.5L640.0 846.0L643.4 846.0L643.4 849.4L642.5 856.9L639.1 856.9ZM640.0 846.0L645.8 840.2L649.2 840.2L649.2 843.6L643.4 849.4L640.0 849.4ZM645.8 840.2L649.2 828.4L652.6 828.4L652.6 831.8L649.2 843.6L645.8 843.6ZM649.2 828.4L650.0 820.1L653.4 820.1L653.4 823.5L652.6 831.8L649.2 831.8ZM650.0 820.1L659.2 803.4L662.6 803.4L662.6 806.8L653.4 823.5L650.0 823.5ZM659.2 803.4L660.1 795.8L663.5 795.8L663.5 799.2L662.6 806.8L659.2 806.8ZM660.1 795.8L668.4 778.8L671.8 778.8L671.8 782.2L663.5 799.2L660.1 799.2ZM668.4 778.8L669.3 772.1L672.7 772.1L672.7 775.5L671.8 782.2L668.4 782.2ZM669.3 772.1L673.3 753.7L676.7 753.7L676.7 757.1L672.7 775.5L669.3 775.5ZM673.3 753.7L679.2 752.1L682.6 752.1L682.6 755.5L676.7 757.1L673.3 757.1ZM679.2 752.1L680.0 745.4L683.4 745.4L683.4 748.8L682.6 755.5L679.2 755.5ZM680.0 745.4L683.4 723.6L686.8 723.6L686.8 727.0L683.4 748.8L680.0 748.8ZM683.4 723.6L689.2 721.9L692.6 721.9L692.6 725.3L686.8 727.0L683.4 727.0ZM689.2 721.9L690.1 715.3L693.5 715.3L693.5 718.7L692.6 725.3L689.2 725.3ZM690.1 715.3L698.8 682.6L702.2 682.6L702.2 686.0L693.5 718.7L690.1 718.7ZM698.8 682.6L702.2 682.6L703.0 698.5L703.0 701.9L699.6 701.9L698.8 686.0ZM699.6 698.5L703.0 698.5L707.2 716.9L707.2 720.3L703.8 720.3L699.6 701.9ZM703.8 716.9L707.2 716.9L712.2 721.9L712.2 725.3L708.8 725.3L703.8 720.3ZM708.8 721.9L712.2 721.9L716.4 745.4L716.4 748.8L713.0 748.8L708.8 725.3ZM713.0 745.4L716.4 745.4L723.1 753.7L723.1 757.1L719.7 757.1L713.0 748.8ZM719.7 753.7L723.1 753.7L727.3 772.1L727.3 775.5L723.9 775.5L719.7 757.1ZM723.9 772.1L727.3 772.1L737.2 792.2L737.2 795.6L733.8 795.6L723.9 775.5ZM733.8 792.2L737.2 792.2L738.1 802.8L738.1 806.2L734.7 806.2L733.8 795.6ZM734.7 802.8L738.1 802.8L748.1 821.8L748.1 825.2L744.7 825.2L734.7 806.2ZM744.7 821.8L748.1 821.8L752.3 836.8L752.3 840.2L748.9 840.2L744.7 825.2ZM748.9 836.8L752.3 836.8L758.2 848.5L758.2 851.9L754.8 851.9L748.9 840.2ZM754.8 848.5L758.2 848.5L762.3 861.9L762.3 865.3L758.9 865.3L754.8 851.9ZM758.9 861.9L762.3 861.9L767.4 871.9L767.4 875.3L764.0 875.3L758.9 865.3ZM764.0 871.9L767.4 871.9L768.2 882.0L768.2 885.4L764.8 885.4L764.0 875.3ZM764.8 882.0L768.2 882.0L773.2 883.6L773.2 887.0L769.8 887.0L764.8 885.4ZM769.8 883.6L773.2 883.6L777.4 892.8L777.4 896.2L774.0 896.2L769.8 887.0ZM774.0 892.8L777.4 892.8L778.2 902.0L778.2 905.4L774.8 905.4L774.0 896.2ZM774.8 902.0L778.2 902.0L782.4 903.7L782.4 907.1L779.0 907.1L774.8 905.4ZM779.0 903.7L782.4 903.7L783.1 912.1L783.1 915.5L779.7 915.5L779.0 907.1ZM779.7 912.1L783.1 912.1L787.3 912.9L787.3 916.3L783.9 916.3L779.7 915.5ZM783.9 912.9L787.3 912.9L791.5 925.5L791.5 928.9L788.1 928.9L783.9 916.3ZM788.1 925.5L791.5 925.5L798.2 931.3L798.2 934.7L794.8 934.7L788.1 928.9ZM794.8 931.3L798.2 931.3L806.9 936.7L806.9 940.1L803.5 940.1L794.8 934.7ZM803.5 936.7L813.2 930.5L816.6 930.5L816.6 933.9L806.9 940.1L803.5 940.1ZM813.2 930.5L819.1 924.6L822.5 924.6L822.5 928.0L816.6 933.9L813.2 933.9ZM819.1 924.6L823.2 913.8L826.6 913.8L826.6 917.2L822.5 928.0L819.1 928.0ZM823.2 913.8L828.3 911.2L831.7 911.2L831.7 914.6L826.6 917.2L823.2 917.2ZM828.3 911.2L829.1 902.0L832.5 902.0L832.5 905.4L831.7 914.6L828.3 914.6ZM829.1 902.0L838.2 892.0L841.6 892.0L841.6 895.4L832.5 905.4L829.1 905.4ZM838.2 892.0L839.0 882.0L842.4 882.0L842.4 885.4L841.6 895.4L838.2 895.4ZM839.0 882.0L843.2 880.3L846.6 880.3L846.6 883.7L842.4 885.4L839.0 885.4ZM843.2 880.3L848.2 871.9L851.6 871.9L851.6 875.3L846.6 883.7L843.2 883.7ZM848.2 871.9L853.2 853.5L856.6 853.5L856.6 856.9L851.6 875.3L848.2 875.3ZM853.2 853.5L854.1 846.0L857.5 846.0L857.5 849.4L856.6 856.9L853.2 856.9ZM854.1 846.0L859.9 840.2L863.3 840.2L863.3 843.6L857.5 849.4L854.1 849.4ZM859.9 840.2L863.3 828.4L866.7 828.4L866.7 831.8L863.3 843.6L859.9 843.6ZM863.3 828.4L864.1 820.1L867.5 820.1L867.5 823.5L866.7 831.8L863.3 831.8ZM864.1 820.1L873.3 803.4L876.7 803.4L876.7 806.8L867.5 823.5L864.1 823.5ZM873.3 803.4L874.2 795.8L877.6 795.8L877.6 799.2L876.7 806.8L873.3 806.8ZM874.2 795.8L882.5 778.8L885.9 778.8L885.9 782.2L877.6 799.2L874.2 799.2ZM882.5 778.8L883.4 772.1L886.8 772.1L886.8 775.5L885.9 782.2L882.5 782.2ZM883.4 772.1L887.4 753.7L890.8 753.7L890.8 757.1L886.8 775.5L883.4 775.5ZM887.4 753.7L893.3 752.1L896.7 752.1L896.7 755.5L890.8 757.1L887.4 757.1ZM893.3 752.1L894.1 745.4L897.5 745.4L897.5 748.8L896.7 755.5L893.3 755.5ZM894.1 745.4L897.5 723.6L900.9 723.6L900.9 727.0L897.5 748.8L894.1 748.8ZM897.5 723.6L903.3 721.9L906.7 721.9L906.7 725.3L900.9 727.0L897.5 727.0ZM903.3 721.9L904.2 715.3L907.6 715.3L907.6 718.7L906.7 725.3L903.3 725.3ZM904.2 715.3L912.9 682.6L916.3 682.6L916.3 686.0L907.6 718.7L904.2 718.7ZM912.9 682.6L916.3 682.6L917.1 698.5L917.1 701.9L913.7 701.9L912.9 686.0ZM913.7 698.5L917.1 698.5L921.3 716.9L921.3 720.3L917.9 720.3L913.7 701.9ZM917.9 716.9L921.3 716.9L926.3 721.9L926.3 725.3L922.9 725.3L917.9 720.3ZM922.9 721.9L926.3 721.9L930.5 745.4L930.5 748.8L927.1 748.8L922.9 725.3ZM927.1 745.4L930.5 745.4L937.1 753.7L937.1 757.1L933.7 757.1L927.1 748.8ZM933.7 753.7L937.1 753.7L941.3 772.1L941.3 775.5L937.9 775.5L933.7 757.1ZM937.9 772.1L941.3 772.1L951.3 792.2L951.3 795.6L947.9 795.6L937.9 775.5ZM947.9 792.2L951.3 792.2L952.2 802.8L952.2 806.2L948.8 806.2L947.9 795.6ZM948.8 802.8L952.2 802.8L962.1 821.8L962.1 825.2L958.7 825.2L948.8 806.2ZM958.7 821.8L962.1 821.8L966.3 836.8L966.3 840.2L962.9 840.2L958.7 825.2ZM962.9 836.8L966.3 836.8L972.2 848.5L972.2 851.9L968.8 851.9L962.9 840.2ZM968.8 848.5L972.2 848.5L976.3 861.9L976.3 865.3L972.9 865.3L968.8 851.9ZM972.9 861.9L976.3 861.9L981.4 871.9L981.4 875.3L978.0 875.3L972.9 865.3ZM978.0 871.9L981.4 871.9L982.2 882.0L982.2 885.4L978.8 885.4L978.0 875.3ZM978.8 882.0L982.2 882.0L987.2 883.6L987.2 887.0L983.8 887.0L978.8 885.4ZM983.8 883.6L987.2 883.6L991.4 892.8L991.4 896.2L988.0 896.2L983.8 887.0ZM988.0 892.8L991.4 892.8L992.2 902.0L992.2 905.4L988.8 905.4L988.0 896.2ZM988.8 902.0L992.2 902.0L996.3 903.7L996.3 907.1L992.9 907.1L988.8 905.4ZM992.9 903.7L996.3 903.7L997.1 912.1L997.1 915.5L993.7 915.5L992.9 907.1ZM993.7 912.1L997.1 912.1L1001.3 912.9L1001.3 916.3L997.9 916.3L993.7 915.5ZM997.9 912.9L1001.3 912.9L1005.5 925.5L1005.5 928.9L1002.1 928.9L997.9 916.3ZM1002.1 925.5L1005.5 925.5L1012.2 931.3L1012.2 934.7L1008.8 934.7L1002.1 928.9ZM1008.8 931.3L1012.2 931.3L1020.9 936.7L1020.9 940.1L1017.5 940.1L1008.8 934.7ZM1017.5 936.7L1027.1 930.5L1030.5 930.5L1030.5 933.9L1020.9 940.1L1017.5 940.1ZM1027.1 930.5L1033.0 924.6L1036.4 924.6L1036.4 928.0L1030.5 933.9L1027.1 933.9ZM1033.0 924.6L1037.1 913.8L1040.5 913.8L1040.5 917.2L1036.4 928.0L1033.0 928.0ZM1037.1 913.8L1042.2 911.2L1045.6 911.2L1045.6 914.6L1040.5 917.2L1037.1 917.2ZM1042.2 911.2L1043.0 902.0L1046.4 902.0L1046.4 905.4L1045.6 914.6L1042.2 914.6ZM1043.0 902.0L1052.1 892.0L1055.5 892.0L1055.5 895.4L1046.4 905.4L1043.0 905.4ZM1052.1 892.0L1052.9 882.0L1056.3 882.0L1056.3 885.4L1055.5 895.4L1052.1 895.4ZM1052.9 882.0L1057.1 880.3L1060.5 880.3L1060.5 883.7L1056.3 885.4L1052.9 885.4ZM1057.1 880.3L1062.1 871.9L1065.5 871.9L1065.5 875.3L1060.5 883.7L1057.1 883.7ZM1062.1 871.9L1067.1 853.5L1070.5 853.5L1070.5 856.9L1065.5 875.3L1062.1 875.3ZM1067.1 853.5L1068.0 846.0L1071.4 846.0L1071.4 849.4L1070.5 856.9L1067.1 856.9ZM1068.0 846.0L1073.8 840.2L1077.2 840.2L1077.2 843.6L1071.4 849.4L1068.0 849.4ZM1073.8 840.2L1077.2 828.4L1080.6 828.4L1080.6 831.8L1077.2 843.6L1073.8 843.6ZM1077.2 828.4L1078.0 820.1L1081.4 820.1L1081.4 823.5L1080.6 831.8L1077.2 831.8ZM1078.0 820.1L1087.1 803.4L1090.5 803.4L1090.5 806.8L1081.4 823.5L1078.0 823.5ZM1087.1 803.4L1088.0 795.8L1091.4 795.8L1091.4 799.2L1090.5 806.8L1087.1 806.8ZM1088.0 795.8L1096.3 778.8L1099.7 778.8L1099.7 782.2L1091.4 799.2L1088.0 799.2ZM1096.3 778.8L1097.2 772.1L1100.6 772.1L1100.6 775.5L1099.7 782.2L1096.3 782.2ZM1097.2 772.1L1101.3 753.7L1104.7 753.7L1104.7 757.1L1100.6 775.5L1097.2 775.5ZM1101.3 753.7L1107.2 752.1L1110.6 752.1L1110.6 755.5L1104.7 757.1L1101.3 757.1ZM1107.2 752.1L1108.0 745.4L1111.4 745.4L1111.4 748.8L1110.6 755.5L1107.2 755.5ZM1108.0 745.4L1111.4 723.6L1114.8 723.6L1114.8 727.0L1111.4 748.8L1108.0 748.8ZM1111.4 723.6L1117.1 721.9L1120.5 721.9L1120.5 725.3L1114.8 727.0L1111.4 727.0ZM1117.1 721.9L1118.0 715.3L1121.4 715.3L1121.4 718.7L1120.5 725.3L1117.1 725.3ZM1118.0 715.3L1126.7 682.6L1130.1 682.6L1130.1 686.0L1121.4 718.7L1118.0 718.7ZM1126.7 682.6L1130.1 682.6L1130.9 698.5L1130.9 701.9L1127.5 701.9L1126.7 686.0ZM1127.5 698.5L1130.9 698.5L1135.1 716.9L1135.1 720.3L1131.7 720.3L1127.5 701.9ZM1131.7 716.9L1135.1 716.9L1140.1 721.9L1140.1 725.3L1136.7 725.3L1131.7 720.3ZM1136.7 721.9L1140.1 721.9L1144.2 745.4L1144.2 748.8L1140.8 748.8L1136.7 725.3ZM1140.8 745.4L1144.2 745.4L1150.9 753.7L1150.9 757.1L1147.5 757.1L1140.8 748.8ZM1147.5 753.7L1150.9 753.7L1155.1 772.1L1155.1 775.5L1151.7 775.5L1147.5 757.1ZM1151.7 772.1L1155.1 772.1L1165.0 792.2L1165.0 795.6L1161.6 795.6L1151.7 775.5ZM1161.6 792.2L1165.0 792.2L1165.9 802.8L1165.9 806.2L1162.5 806.2L1161.6 795.6ZM1162.5 802.8L1165.9 802.8L1175.9 821.8L1175.9 825.2L1172.5 825.2L1162.5 806.2ZM1172.5 821.8L1175.9 821.8L1180.1 836.8L1180.1 840.2L1176.7 840.2L1172.5 825.2ZM1176.7 836.8L1180.1 836.8L1185.9 848.5L1185.9 851.9L1182.5 851.9L1176.7 840.2ZM1182.5 848.5L1185.9 848.5L1190.0 861.9L1190.0 865.3L1186.6 865.3L1182.5 851.9ZM1186.6 861.9L1190.0 861.9L1195.1 871.9L1195.1 875.3L1191.7 875.3L1186.6 865.3ZM1191.7 871.9L1195.1 871.9L1195.9 882.0L1195.9 885.4L1192.5 885.4L1191.7 875.3ZM1192.5 882.0L1195.9 882.0L1200.9 883.6L1200.9 887.0L1197.5 887.0L1192.5 885.4ZM1197.5 883.6L1200.9 883.6L1205.0 892.8L1205.0 896.2L1201.6 896.2L1197.5 887.0ZM1201.6 892.8L1205.0 892.8L1205.8 902.0L1205.8 905.4L1202.4 905.4L1201.6 896.2ZM1202.4 902.0L1205.8 902.0L1210.0 903.7L1210.0 907.1L1206.6 907.1L1202.4 905.4ZM1206.6 903.7L1210.0 903.7L1210.8 912.1L1210.8 915.5L1207.4 915.5L1206.6 907.1ZM1207.4 912.1L1210.8 912.1L1215.0 912.9L1215.0 916.3L1211.6 916.3L1207.4 915.5ZM1211.6 912.9L1215.0 912.9L1219.2 925.5L1219.2 928.9L1215.8 928.9L1211.6 916.3ZM1215.8 925.5L1219.2 925.5L1225.9 931.3L1225.9 934.7L1222.5 934.7L1215.8 928.9ZM1222.5 931.3L1225.9 931.3L1234.5 936.7L1234.5 940.1L1231.1 940.1L1222.5 934.7ZM1231.1 936.7L1240.8 930.5L1244.2 930.5L1244.2 933.9L1234.5 940.1L1231.1 940.1ZM1240.8 930.5L1246.6 924.6L1250.0 924.6L1250.0 928.0L1244.2 933.9L1240.8 933.9ZM1246.6 924.6L1250.7 913.8L1254.1 913.8L1254.1 917.2L1250.0 928.0L1246.6 928.0ZM1250.7 913.8L1255.8 911.2L1259.2 911.2L1259.2 914.6L1254.1 917.2L1250.7 917.2ZM1255.8 911.2L1256.6 902.0L1260.0 902.0L1260.0 905.4L1259.2 914.6L1255.8 914.6ZM1256.6 902.0L1265.7 892.0L1269.1 892.0L1269.1 895.4L1260.0 905.4L1256.6 905.4ZM1265.7 892.0L1266.5 882.0L1269.9 882.0L1269.9 885.4L1269.1 895.4L1265.7 895.4ZM1266.5 882.0L1270.7 880.3L1274.1 880.3L1274.1 883.7L1269.9 885.4L1266.5 885.4ZM1270.7 880.3L1275.7 871.9L1279.1 871.9L1279.1 875.3L1274.1 883.7L1270.7 883.7ZM1275.7 871.9L1280.7 853.5L1284.1 853.5L1284.1 856.9L1279.1 875.3L1275.7 875.3ZM1280.7 853.5L1281.6 846.0L1285.0 846.0L1285.0 849.4L1284.1 856.9L1280.7 856.9ZM1281.6 846.0L1287.3 840.2L1290.7 840.2L1290.7 843.6L1285.0 849.4L1281.6 849.4ZM1287.3 840.2L1290.7 828.4L1294.1 828.4L1294.1 831.8L1290.7 843.6L1287.3 843.6ZM1290.7 828.4L1291.5 820.1L1294.9 820.1L1294.9 823.5L1294.1 831.8L1290.7 831.8ZM1291.5 820.1L1300.7 803.4L1304.1 803.4L1304.1 806.8L1294.9 823.5L1291.5 823.5ZM1300.7 803.4L1301.6 795.8L1305.0 795.8L1305.0 799.2L1304.1 806.8L1300.7 806.8ZM1301.6 795.8L1309.8 778.8L1313.2 778.8L1313.2 782.2L1305.0 799.2L1301.6 799.2ZM1309.8 778.8L1310.7 772.1L1314.1 772.1L1314.1 775.5L1313.2 782.2L1309.8 782.2ZM1310.7 772.1L1314.8 753.7L1318.2 753.7L1318.2 757.1L1314.1 775.5L1310.7 775.5ZM1314.8 753.7L1320.7 752.1L1324.1 752.1L1324.1 755.5L1318.2 757.1L1314.8 757.1ZM1320.7 752.1L1321.5 745.4L1324.9 745.4L1324.9 748.8L1324.1 755.5L1320.7 755.5ZM1321.5 745.4L1324.9 723.6L1328.3 723.6L1328.3 727.0L1324.9 748.8L1321.5 748.8ZM1324.9 723.6L1330.6 721.9L1334.0 721.9L1334.0 725.3L1328.3 727.0L1324.9 727.0ZM1330.6 721.9L1331.5 715.3L1334.9 715.3L1334.9 718.7L1334.0 725.3L1330.6 725.3ZM1331.5 715.3L1340.2 682.6L1343.6 682.6L1343.6 686.0L1334.9 718.7L1331.5 718.7ZM1340.2 682.6L1343.6 682.6L1344.4 698.5L1344.4 701.9L1341.0 701.9L1340.2 686.0ZM1341.0 698.5L1344.4 698.5L1348.6 716.9L1348.6 720.3L1345.2 720.3L1341.0 701.9ZM1345.2 716.9L1348.6 716.9L1353.6 721.9L1353.6 725.3L1350.2 725.3L1345.2 720.3ZM1350.2 721.9L1353.6 721.9L1357.8 745.4L1357.8 748.8L1354.4 748.8L1350.2 725.3ZM1354.4 745.4L1357.8 745.4L1364.5 753.7L1364.5 757.1L1361.1 757.1L1354.4 748.8ZM1361.1 753.7L1364.5 753.7L1368.7 772.1L1368.7 775.5L1365.3 775.5L1361.1 757.1ZM1365.3 772.1L1368.7 772.1L1377.9 788.3L1377.9 791.7L1374.5 791.7L1365.3 775.5ZM1374.5 788.3L1377.9 788.3L1377.9 805.1L1374.5 805.1ZM1374.5 801.7L1377.9 801.7L1388.7 821.8L1388.7 825.2L1385.3 825.2L1374.5 805.1ZM1385.3 821.8L1388.7 821.8L1392.9 836.8L1392.9 840.2L1389.5 840.2L1385.3 825.2ZM1389.5 836.8L1392.9 836.8L1397.9 846.8L1397.9 850.2L1394.5 850.2L1389.5 840.2ZM1394.5 846.8L1397.9 846.8L1398.8 860.2L1398.8 863.6L1395.4 863.6L1394.5 850.2ZM1395.4 860.2L1398.8 860.2L1403.0 861.9L1403.0 865.3L1399.6 865.3L1395.4 863.6ZM1399.6 861.9L1403.0 861.9L1403.8 873.6L1403.8 877.0L1400.4 877.0L1399.6 865.3ZM1400.4 873.6L1403.8 873.6L1413.0 887.0L1413.0 890.4L1409.6 890.4L1400.4 877.0ZM1409.6 887.0L1413.0 887.0L1413.8 895.4L1413.8 898.8L1410.4 898.8L1409.6 890.4ZM1410.4 895.4L1413.8 895.4L1418.0 897.0L1418.0 900.4L1414.6 900.4L1410.4 898.8ZM1414.6 897.0L1418.0 897.0L1423.0 907.1L1423.0 910.5L1419.6 910.5L1414.6 900.4ZM1419.6 907.1L1423.0 907.1L1423.9 913.8L1423.9 917.2L1420.5 917.2L1419.6 910.5ZM1420.5 913.8L1423.9 913.8L1428.9 920.5L1428.9 923.9L1425.5 923.9L1420.5 917.2ZM1425.5 920.5L1428.9 920.5L1433.9 925.5L1433.9 928.9L1430.5 928.9L1425.5 923.9ZM1430.5 925.5L1433.9 925.5L1438.1 931.3L1438.1 934.7L1434.7 934.7L1430.5 928.9ZM1434.7 931.3L1438.1 931.3L1445.6 936.7L1445.6 940.1L1442.2 940.1L1434.7 934.7ZM1442.2 936.7L1450.6 932.2L1454.0 932.2L1454.0 935.6L1445.6 940.1L1442.2 940.1ZM1450.6 932.2L1458.1 929.6L1461.5 929.6L1461.5 933.0L1454.0 935.6L1450.6 935.6ZM1458.1 929.6L1460.6 922.1L1464.0 922.1L1464.0 925.5L1461.5 933.0L1458.1 933.0ZM1460.6 922.1L1464.8 915.4L1468.2 915.4L1468.2 918.8L1464.0 925.5L1460.6 925.5ZM1464.8 915.4L1465.6 910.4L1469.0 910.4L1469.0 913.8L1468.2 918.8L1464.8 918.8ZM1465.6 910.4L1469.8 905.4L1473.2 905.4L1473.2 908.8L1469.0 913.8L1465.6 913.8ZM1469.8 905.4L1474.8 900.4L1478.2 900.4L1478.2 903.8L1473.2 908.8L1469.8 908.8ZM1474.8 900.4L1475.7 892.0L1479.1 892.0L1479.1 895.4L1478.2 903.8L1474.8 903.8ZM1475.7 892.0L1479.9 890.3L1483.3 890.3L1483.3 893.7L1479.1 895.4L1475.7 895.4ZM1479.9 890.3L1480.7 882.0L1484.1 882.0L1484.1 885.4L1483.3 893.7L1479.9 893.7ZM1480.7 882.0L1484.9 880.3L1488.3 880.3L1488.3 883.7L1484.1 885.4L1480.7 885.4ZM1484.9 880.3L1485.7 871.9L1489.1 871.9L1489.1 875.3L1488.3 883.7L1484.9 883.7ZM1485.7 871.9L1489.9 866.9L1493.3 866.9L1493.3 870.3L1489.1 875.3L1485.7 875.3ZM1489.9 866.9L1494.1 853.5L1497.5 853.5L1497.5 856.9L1493.3 870.3L1489.9 870.3ZM1494.1 853.5L1494.9 841.8L1498.3 841.8L1498.3 845.2L1497.5 856.9L1494.1 856.9ZM1494.9 841.8L1500.8 840.2L1504.2 840.2L1504.2 843.6L1498.3 845.2L1494.9 845.2ZM1500.8 840.2L1504.9 826.8L1508.3 826.8L1508.3 830.2L1504.2 843.6L1500.8 843.6ZM1504.9 826.8L1505.8 820.1L1509.2 820.1L1509.2 823.5L1508.3 830.2L1504.9 830.2ZM1505.8 820.1L1512.5 805.6L1515.9 805.6L1515.9 809.0L1509.2 823.5L1505.8 823.5ZM1512.5 805.6L1513.3 797.2L1516.7 797.2L1516.7 800.6L1515.9 809.0L1512.5 809.0ZM1513.3 797.2L1518.3 787.2L1521.7 787.2L1521.7 790.6L1516.7 800.6L1513.3 800.6ZM1518.3 787.2L1519.2 777.1L1522.6 777.1L1522.6 780.5L1521.7 790.6L1518.3 790.6ZM1519.2 777.1L1524.2 774.6L1527.6 774.6L1527.6 778.0L1522.6 780.5L1519.2 780.5ZM1524.2 774.6L1529.2 745.4L1532.6 745.4L1532.6 748.8L1527.6 778.0L1524.2 778.0ZM1529.2 745.4L1538.4 725.3L1541.8 725.3L1541.8 728.7L1532.6 748.8L1529.2 748.8ZM1538.4 725.3L1541.7 708.6L1545.1 708.6L1545.1 712.0L1541.8 728.7L1538.4 728.7ZM1541.7 708.6L1549.3 682.6L1552.7 682.6L1552.7 686.0L1545.1 712.0L1541.7 712.0ZM1549.3 682.6L1552.7 682.6L1557.7 691.8L1557.7 695.2L1554.3 695.2L1549.3 686.0ZM1554.3 691.8L1557.7 691.8L1561.9 720.3L1561.9 723.7L1558.5 723.7L1554.3 695.2ZM1558.5 720.3L1561.9 720.3L1567.7 727.0L1567.7 730.4L1564.3 730.4L1558.5 723.7ZM1564.3 727.0L1567.7 727.0L1572.7 750.4L1572.7 753.8L1569.3 753.8L1564.3 730.4ZM1569.3 750.4L1572.7 750.4L1578.6 753.7L1578.6 757.1L1575.2 757.1L1569.3 753.8ZM1575.2 753.7L1578.6 753.7L1586.1 785.5L1586.1 788.9L1582.7 788.9L1575.2 757.1ZM1582.7 785.5L1586.1 785.5L1592.0 792.2L1592.0 795.6L1588.6 795.6L1582.7 788.9ZM1588.6 792.2L1592.0 792.2L1592.8 802.5L1592.8 805.9L1589.4 805.9L1588.6 795.6ZM1589.4 802.5L1592.8 802.5L1602.9 821.8L1602.9 825.2L1599.5 825.2L1589.4 805.9ZM1599.5 821.8L1602.9 821.8L1612.1 846.0L1612.1 849.4L1608.7 849.4L1599.5 825.2ZM1608.7 846.0L1612.1 846.0L1612.9 856.9L1612.9 860.3L1609.5 860.3L1608.7 849.4ZM1609.5 856.9L1612.9 856.9L1617.1 858.6L1617.1 862.0L1613.7 862.0L1609.5 860.3ZM1613.7 858.6L1617.1 858.6L1617.6 873.6L1617.6 877.0L1614.2 877.0L1613.7 862.0ZM1614.2 873.6L1617.6 873.6L1626.3 887.0L1626.3 890.4L1622.9 890.4L1614.2 877.0ZM1622.9 887.0L1626.3 887.0L1627.1 897.0L1627.1 900.4L1623.7 900.4L1622.9 890.4ZM1623.7 897.0L1627.1 897.0L1631.3 898.7L1631.3 902.1L1627.9 902.1L1623.7 900.4ZM1627.9 898.7L1631.3 898.7L1636.3 910.4L1636.3 913.8L1632.9 913.8L1627.9 902.1ZM1632.9 910.4L1636.3 910.4L1642.2 917.1L1642.2 920.5L1638.8 920.5L1632.9 913.8Z"/>
</g>
<text transform="translate(173.7,60.8) scale(0.95,1)" font-size="69.5" text-anchor="end">50</text>
<text transform="translate(173.7,246.3) scale(0.95,1)" font-size="69.5" text-anchor="end">40</text>
<text transform="translate(173.7,433.2) scale(0.95,1)" font-size="69.5" text-anchor="end">30</text>
<text transform="translate(173.7,623.8) scale(0.95,1)" font-size="69.5" text-anchor="end">20</text>
<text transform="translate(173.7,809.8) scale(0.95,1)" font-size="69.5" text-anchor="end">10</text>
<text transform="translate(210,1035) scale(0.95,1)" font-size="69.5" text-anchor="end">0</text>
<text transform="translate(485.3,1052) scale(0.95,1)" font-size="69.5" text-anchor="middle">20</text>
<text transform="translate(768.2,1052) scale(0.95,1)" font-size="69.5" text-anchor="middle">40</text>
<text transform="translate(1056.9,1052) scale(0.95,1)" font-size="69.5" text-anchor="middle">60</text>
<text transform="translate(1340.5,1052) scale(0.95,1)" font-size="69.5" text-anchor="middle">80</text>
<text transform="translate(1638.5,1052) scale(0.95,1)" font-size="69.5" text-anchor="middle">100</text>
<text class="it" transform="translate(855,1106) scale(0.98,1)" font-size="69.5" text-anchor="start">x</text>
<text transform="translate(897.9,1110.6) skewX(-11.6) scale(0.568,1)" font-size="88">/</text>
<text transform="translate(929.5,1106.3) scale(1.04,1)" font-size="65" text-anchor="start">c</text>
<text transform="translate(961,1106.3) scale(0.69,1)" font-size="65" text-anchor="start">m</text>
<defs><clipPath id="muclip"><rect x="-10" y="-60" width="80" height="63"/></clipPath></defs>
<g transform="translate(70.2,640) rotate(-90)">
<text class="it" transform="translate(5.4,-8.6) scale(1.157,1)" font-size="65" text-anchor="start">F</text>
<text class="it" transform="translate(43.2,8.2) scale(1.167,1)" font-size="38.5" text-anchor="start">M</text>
<text transform="translate(97.4,7.6) skewX(-4.3) scale(0.579,1)" font-size="86.3">/</text>
<text transform="translate(132.8,0) scale(1.07,1)" font-size="68" text-anchor="start" clip-path="url(#muclip)">μ</text>
<text transform="translate(184.5,0) scale(1.127,1)" font-size="69.5" text-anchor="start">H</text>
</g>
<rect x="1670.5" y="300.5" width="456.8" height="433.1" fill="#fff" stroke="#000" stroke-width="7"/>
<line x1="1709.6" y1="359.8" x2="1829.4" y2="359.8" stroke="#0000ff" stroke-width="7.4" stroke-linecap="round"/>
<text class="it" transform="translate(1852.2,380.3) scale(1.0,1)" font-size="66" text-anchor="start">L</text>
<text class="it" transform="translate(1885.3,396.8) scale(1.0,1)" font-size="40" text-anchor="start">O</text>
<text transform="translate(1931.1,386.3) scale(1.2,1)" font-size="66" text-anchor="start">=</text>
<text transform="translate(1986.3,380.3) scale(1.0,1)" font-size="66" text-anchor="start">6cm</text>
<line x1="1709.6" y1="459.8" x2="1829.4" y2="459.8" stroke="#008000" stroke-width="7.4" stroke-linecap="round"/>
<text class="it" transform="translate(1852.2,479.4) scale(1.0,1)" font-size="66" text-anchor="start">L</text>
<text class="it" transform="translate(1885.3,495.9) scale(1.0,1)" font-size="40" text-anchor="start">O</text>
<text transform="translate(1931.1,485.4) scale(1.2,1)" font-size="66" text-anchor="start">=</text>
<text transform="translate(1986.3,479.4) scale(1.0,1)" font-size="66" text-anchor="start">9cm</text>
<line x1="1709.6" y1="564.4" x2="1829.4" y2="564.4" stroke="#ff0000" stroke-width="7.4" stroke-linecap="round"/>
<text class="it" transform="translate(1842.7,581.4) scale(1.0,1)" font-size="66" text-anchor="start">L</text>
<text class="it" transform="translate(1875.8,597.9) scale(1.0,1)" font-size="40" text-anchor="start">O</text>
<text transform="translate(1922.2,587.4) scale(1.2,1)" font-size="66" text-anchor="start">=</text>
<text transform="translate(1973.5,581.4) scale(1.0,1)" font-size="66" text-anchor="start">12cm</text>
<line x1="1709.6" y1="669.4" x2="1829.4" y2="669.4" stroke="#00bfbf" stroke-width="7.4" stroke-linecap="round"/>
<text class="it" transform="translate(1846.2,686.4) scale(1.0,1)" font-size="66" text-anchor="start">L</text>
<text class="it" transform="translate(1876.0,702.9) scale(1.0,1)" font-size="40" text-anchor="start">O</text>
<text transform="translate(1925.3,692.4) scale(1.2,1)" font-size="66" text-anchor="start">=</text>
<text transform="translate(1976.5,686.4) scale(0.983,1)" font-size="66" text-anchor="start">15cm</text>
</svg></body></html>
